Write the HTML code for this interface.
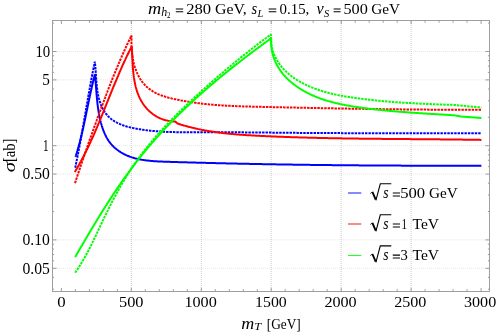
<!DOCTYPE html><html><head><meta charset="utf-8"><style>html,body{margin:0;padding:0;background:#fff;}body{width:498px;height:334px;overflow:hidden;position:relative;font-family:"Liberation Serif",serif;}</style></head><body><svg width="498" height="334" viewBox="0 0 498 334" style="position:absolute;left:0;top:0;will-change:transform"><rect width="498" height="334" fill="#fff"/><g stroke="#a6a6a6" stroke-width="0.6" stroke-dasharray="1 1" fill="none"><line x1="131.3" y1="21" x2="131.3" y2="291.5"/><line x1="201.3" y1="21" x2="201.3" y2="291.5"/><line x1="271.2" y1="21" x2="271.2" y2="291.5"/><line x1="341.2" y1="21" x2="341.2" y2="291.5"/><line x1="411.1" y1="21" x2="411.1" y2="291.5"/></g><g stroke="#cfcfcf" stroke-width="0.5" stroke-dasharray="1 1" fill="none"><line x1="53" y1="51.5" x2="489.5" y2="51.5"/><line x1="53" y1="79.9" x2="489.5" y2="79.9"/><line x1="53" y1="145.7" x2="489.5" y2="145.7"/><line x1="53" y1="174.1" x2="489.5" y2="174.1"/><line x1="53" y1="239.9" x2="489.5" y2="239.9"/><line x1="53" y1="268.3" x2="489.5" y2="268.3"/></g><g stroke="#767676" stroke-width="0.7" fill="none"><line x1="61.4" y1="291.5" x2="61.4" y2="287.9"/><line x1="61.4" y1="20.5" x2="61.4" y2="24.1"/><line x1="75.4" y1="291.5" x2="75.4" y2="289.2"/><line x1="75.4" y1="20.5" x2="75.4" y2="22.8"/><line x1="89.4" y1="291.5" x2="89.4" y2="289.2"/><line x1="89.4" y1="20.5" x2="89.4" y2="22.8"/><line x1="103.4" y1="291.5" x2="103.4" y2="289.2"/><line x1="103.4" y1="20.5" x2="103.4" y2="22.8"/><line x1="117.4" y1="291.5" x2="117.4" y2="289.2"/><line x1="117.4" y1="20.5" x2="117.4" y2="22.8"/><line x1="131.3" y1="291.5" x2="131.3" y2="287.9"/><line x1="131.3" y1="20.5" x2="131.3" y2="24.1"/><line x1="145.3" y1="291.5" x2="145.3" y2="289.2"/><line x1="145.3" y1="20.5" x2="145.3" y2="22.8"/><line x1="159.3" y1="291.5" x2="159.3" y2="289.2"/><line x1="159.3" y1="20.5" x2="159.3" y2="22.8"/><line x1="173.3" y1="291.5" x2="173.3" y2="289.2"/><line x1="173.3" y1="20.5" x2="173.3" y2="22.8"/><line x1="187.3" y1="291.5" x2="187.3" y2="289.2"/><line x1="187.3" y1="20.5" x2="187.3" y2="22.8"/><line x1="201.3" y1="291.5" x2="201.3" y2="287.9"/><line x1="201.3" y1="20.5" x2="201.3" y2="24.1"/><line x1="215.3" y1="291.5" x2="215.3" y2="289.2"/><line x1="215.3" y1="20.5" x2="215.3" y2="22.8"/><line x1="229.3" y1="291.5" x2="229.3" y2="289.2"/><line x1="229.3" y1="20.5" x2="229.3" y2="22.8"/><line x1="243.3" y1="291.5" x2="243.3" y2="289.2"/><line x1="243.3" y1="20.5" x2="243.3" y2="22.8"/><line x1="257.3" y1="291.5" x2="257.3" y2="289.2"/><line x1="257.3" y1="20.5" x2="257.3" y2="22.8"/><line x1="271.2" y1="291.5" x2="271.2" y2="287.9"/><line x1="271.2" y1="20.5" x2="271.2" y2="24.1"/><line x1="285.2" y1="291.5" x2="285.2" y2="289.2"/><line x1="285.2" y1="20.5" x2="285.2" y2="22.8"/><line x1="299.2" y1="291.5" x2="299.2" y2="289.2"/><line x1="299.2" y1="20.5" x2="299.2" y2="22.8"/><line x1="313.2" y1="291.5" x2="313.2" y2="289.2"/><line x1="313.2" y1="20.5" x2="313.2" y2="22.8"/><line x1="327.2" y1="291.5" x2="327.2" y2="289.2"/><line x1="327.2" y1="20.5" x2="327.2" y2="22.8"/><line x1="341.2" y1="291.5" x2="341.2" y2="287.9"/><line x1="341.2" y1="20.5" x2="341.2" y2="24.1"/><line x1="355.2" y1="291.5" x2="355.2" y2="289.2"/><line x1="355.2" y1="20.5" x2="355.2" y2="22.8"/><line x1="369.2" y1="291.5" x2="369.2" y2="289.2"/><line x1="369.2" y1="20.5" x2="369.2" y2="22.8"/><line x1="383.2" y1="291.5" x2="383.2" y2="289.2"/><line x1="383.2" y1="20.5" x2="383.2" y2="22.8"/><line x1="397.2" y1="291.5" x2="397.2" y2="289.2"/><line x1="397.2" y1="20.5" x2="397.2" y2="22.8"/><line x1="411.1" y1="291.5" x2="411.1" y2="287.9"/><line x1="411.1" y1="20.5" x2="411.1" y2="24.1"/><line x1="425.1" y1="291.5" x2="425.1" y2="289.2"/><line x1="425.1" y1="20.5" x2="425.1" y2="22.8"/><line x1="439.1" y1="291.5" x2="439.1" y2="289.2"/><line x1="439.1" y1="20.5" x2="439.1" y2="22.8"/><line x1="453.1" y1="291.5" x2="453.1" y2="289.2"/><line x1="453.1" y1="20.5" x2="453.1" y2="22.8"/><line x1="467.1" y1="291.5" x2="467.1" y2="289.2"/><line x1="467.1" y1="20.5" x2="467.1" y2="22.8"/><line x1="481.1" y1="291.5" x2="481.1" y2="287.9"/><line x1="481.1" y1="20.5" x2="481.1" y2="24.1"/><line x1="52.5" y1="51.5" x2="56.5" y2="51.5"/><line x1="489.5" y1="51.5" x2="485.5" y2="51.5"/><line x1="52.5" y1="79.9" x2="56.5" y2="79.9"/><line x1="489.5" y1="79.9" x2="485.5" y2="79.9"/><line x1="52.5" y1="145.7" x2="56.5" y2="145.7"/><line x1="489.5" y1="145.7" x2="485.5" y2="145.7"/><line x1="52.5" y1="174.1" x2="56.5" y2="174.1"/><line x1="489.5" y1="174.1" x2="485.5" y2="174.1"/><line x1="52.5" y1="239.9" x2="56.5" y2="239.9"/><line x1="489.5" y1="239.9" x2="485.5" y2="239.9"/><line x1="52.5" y1="268.3" x2="56.5" y2="268.3"/><line x1="489.5" y1="268.3" x2="485.5" y2="268.3"/><line x1="52.5" y1="23.1" x2="54.1" y2="23.1"/><line x1="489.5" y1="23.1" x2="487.9" y2="23.1"/><line x1="52.5" y1="55.8" x2="54.1" y2="55.8"/><line x1="489.5" y1="55.8" x2="487.9" y2="55.8"/><line x1="52.5" y1="60.6" x2="54.1" y2="60.6"/><line x1="489.5" y1="60.6" x2="487.9" y2="60.6"/><line x1="52.5" y1="66.1" x2="54.1" y2="66.1"/><line x1="489.5" y1="66.1" x2="487.9" y2="66.1"/><line x1="52.5" y1="72.4" x2="54.1" y2="72.4"/><line x1="489.5" y1="72.4" x2="487.9" y2="72.4"/><line x1="52.5" y1="89.0" x2="54.1" y2="89.0"/><line x1="489.5" y1="89.0" x2="487.9" y2="89.0"/><line x1="52.5" y1="100.8" x2="54.1" y2="100.8"/><line x1="489.5" y1="100.8" x2="487.9" y2="100.8"/><line x1="52.5" y1="117.3" x2="54.1" y2="117.3"/><line x1="489.5" y1="117.3" x2="487.9" y2="117.3"/><line x1="52.5" y1="150.0" x2="54.1" y2="150.0"/><line x1="489.5" y1="150.0" x2="487.9" y2="150.0"/><line x1="52.5" y1="154.8" x2="54.1" y2="154.8"/><line x1="489.5" y1="154.8" x2="487.9" y2="154.8"/><line x1="52.5" y1="160.3" x2="54.1" y2="160.3"/><line x1="489.5" y1="160.3" x2="487.9" y2="160.3"/><line x1="52.5" y1="166.6" x2="54.1" y2="166.6"/><line x1="489.5" y1="166.6" x2="487.9" y2="166.6"/><line x1="52.5" y1="183.2" x2="54.1" y2="183.2"/><line x1="489.5" y1="183.2" x2="487.9" y2="183.2"/><line x1="52.5" y1="195.0" x2="54.1" y2="195.0"/><line x1="489.5" y1="195.0" x2="487.9" y2="195.0"/><line x1="52.5" y1="211.5" x2="54.1" y2="211.5"/><line x1="489.5" y1="211.5" x2="487.9" y2="211.5"/><line x1="52.5" y1="244.2" x2="54.1" y2="244.2"/><line x1="489.5" y1="244.2" x2="487.9" y2="244.2"/><line x1="52.5" y1="249.0" x2="54.1" y2="249.0"/><line x1="489.5" y1="249.0" x2="487.9" y2="249.0"/><line x1="52.5" y1="254.5" x2="54.1" y2="254.5"/><line x1="489.5" y1="254.5" x2="487.9" y2="254.5"/><line x1="52.5" y1="260.8" x2="54.1" y2="260.8"/><line x1="489.5" y1="260.8" x2="487.9" y2="260.8"/><line x1="52.5" y1="277.4" x2="54.1" y2="277.4"/><line x1="489.5" y1="277.4" x2="487.9" y2="277.4"/><line x1="52.5" y1="289.2" x2="54.1" y2="289.2"/><line x1="489.5" y1="289.2" x2="487.9" y2="289.2"/></g><clipPath id="c"><rect x="52.5" y="20.5" width="437.0" height="271.0"/></clipPath><g clip-path="url(#c)"><path d="M75.50,156.90 L75.75,156.13 L75.99,155.36 L76.23,154.58 L76.47,153.81 L76.71,153.04 L76.94,152.26 L77.17,151.48 L77.40,150.71 L77.62,149.93 L77.85,149.15 L78.07,148.38 L78.29,147.60 L78.51,146.82 L78.72,146.04 L78.93,145.26 L79.14,144.48 L79.35,143.70 L79.56,142.92 L79.76,142.13 L79.96,141.35 L80.17,140.57 L80.36,139.78 L80.56,139.00 L80.76,138.21 L80.95,137.43 L81.14,136.64 L81.33,135.86 L81.52,135.07 L81.71,134.29 L81.90,133.50 L82.08,132.71 L82.26,131.92 L82.44,131.14 L82.63,130.35 L82.80,129.56 L82.98,128.77 L83.16,127.98 L83.34,127.19 L83.51,126.40 L83.68,125.61 L83.86,124.82 L84.03,124.03 L84.20,123.24 L84.37,122.45 L84.54,121.66 L84.71,120.87 L84.87,120.08 L85.04,119.29 L85.21,118.50 L85.37,117.70 L85.54,116.91 L85.70,116.12 L85.87,115.33 L86.03,114.54 L86.20,113.74 L86.36,112.95 L86.52,112.16 L86.69,111.37 L86.85,110.57 L87.01,109.78 L87.17,108.99 L87.34,108.20 L87.50,107.40 L87.66,106.61 L87.82,105.82 L87.99,105.03 L88.15,104.24 L88.31,103.44 L88.47,102.65 L88.64,101.86 L88.80,101.07 L88.97,100.28 L89.13,99.48 L89.30,98.69 L89.46,97.90 L89.63,97.11 L89.80,96.32 L89.96,95.53 L90.13,94.74 L90.30,93.95 L90.47,93.16 L90.64,92.37 L90.81,91.58 L90.98,90.79 L91.16,90.00 L91.33,89.21 L91.51,88.43 L91.69,87.64 L91.86,86.85 L92.04,86.06 L92.22,85.28 L92.40,84.49 L92.59,83.70 L92.77,82.92 L92.96,82.13 L93.14,81.35 L93.33,80.56 L93.52,79.78 L93.71,78.99 L93.91,78.21 L94.10,77.43 L94.30,76.64 L94.50,75.86 L94.70,75.08 L94.90,74.30 L94.98,75.07 L95.06,75.83 L95.14,76.60 L95.22,77.38 L95.29,78.15 L95.37,78.93 L95.44,79.71 L95.50,80.49 L95.57,81.27 L95.64,82.06 L95.70,82.85 L95.76,83.64 L95.83,84.43 L95.89,85.22 L95.95,86.01 L96.01,86.81 L96.07,87.61 L96.13,88.41 L96.19,89.21 L96.25,90.01 L96.32,90.81 L96.38,91.61 L96.44,92.42 L96.51,93.22 L96.57,94.03 L96.64,94.84 L96.70,95.65 L96.77,96.45 L96.84,97.26 L96.92,98.07 L96.99,98.88 L97.07,99.69 L97.15,100.50 L97.23,101.31 L97.31,102.12 L97.40,102.93 L97.49,103.74 L97.58,104.55 L97.68,105.36 L97.78,106.17 L97.89,106.98 L97.99,107.79 L98.10,108.60 L98.22,109.41 L98.34,110.21 L98.47,111.02 L98.60,111.82 L98.73,112.63 L98.87,113.43 L99.01,114.23 L99.16,115.04 L99.32,115.84 L99.48,116.63 L99.64,117.43 L99.82,118.23 L99.99,119.02 L100.18,119.81 L100.37,120.60 L100.57,121.39 L100.77,122.18 L100.98,122.96 L101.20,123.75 L101.43,124.53 L101.66,125.30 L101.90,126.08 L102.15,126.85 L102.40,127.62 L102.66,128.39 L102.94,129.15 L103.21,129.90 L103.50,130.66 L103.80,131.41 L104.10,132.15 L104.41,132.89 L104.73,133.62 L105.06,134.34 L105.40,135.06 L105.75,135.78 L106.10,136.48 L106.47,137.18 L106.84,137.87 L107.23,138.56 L107.63,139.23 L108.04,139.90 L108.47,140.56 L108.91,141.21 L109.36,141.85 L109.83,142.49 L110.32,143.11 L110.82,143.72 L111.34,144.32 L111.87,144.92 L112.42,145.50 L112.98,146.07 L113.55,146.63 L114.14,147.18 L114.73,147.72 L115.34,148.25 L115.96,148.77 L116.59,149.28 L117.22,149.77 L117.87,150.25 L118.52,150.72 L119.19,151.18 L119.86,151.63 L120.53,152.06 L121.21,152.49 L121.90,152.90 L122.59,153.29 L123.28,153.68 L123.98,154.05 L124.69,154.40 L125.39,154.75 L126.10,155.08 L126.82,155.41 L127.54,155.72 L128.26,156.01 L128.98,156.30 L129.71,156.58 L130.44,156.85 L131.18,157.10 L131.92,157.35 L132.66,157.58 L133.41,157.81 L134.15,158.03 L134.90,158.24 L135.66,158.43 L136.42,158.63 L137.18,158.81 L137.94,158.98 L138.70,159.15 L139.47,159.31 L140.24,159.46 L141.01,159.60 L141.79,159.74 L142.56,159.87 L143.34,159.99 L144.12,160.11 L144.91,160.22 L145.69,160.33 L146.48,160.43 L147.27,160.52 L148.06,160.61 L148.85,160.70 L149.65,160.78 L150.44,160.86 L151.24,160.93 L152.04,161.00 L152.84,161.06 L153.64,161.13 L154.44,161.18 L155.25,161.24 L156.05,161.29 L156.86,161.34 L157.67,161.39 L158.48,161.43 L159.28,161.47 L160.09,161.51 L160.90,161.55 L161.71,161.58 L162.53,161.62 L163.34,161.65 L164.15,161.68 L164.96,161.71 L165.78,161.73 L166.59,161.76 L167.40,161.79 L168.22,161.81 L169.03,161.84 L169.84,161.86 L170.66,161.89 L171.47,161.91 L172.28,161.94 L173.09,161.96 L173.91,161.99 L174.72,162.01 L175.53,162.03 L176.34,162.06 L177.16,162.08 L177.97,162.11 L178.78,162.13 L179.59,162.15 L180.40,162.18 L181.21,162.20 L182.02,162.23 L182.84,162.25 L183.65,162.27 L184.46,162.29 L185.27,162.32 L186.08,162.34 L186.89,162.36 L187.70,162.39 L188.51,162.41 L189.32,162.43 L190.13,162.45 L190.94,162.48 L191.75,162.50 L192.56,162.52 L193.37,162.54 L194.18,162.57 L194.99,162.59 L195.79,162.61 L196.60,162.63 L197.41,162.65 L198.22,162.68 L199.03,162.70 L199.84,162.72 L200.65,162.74 L201.45,162.76 L202.26,162.78 L203.07,162.80 L203.88,162.82 L204.68,162.85 L205.49,162.87 L206.30,162.89 L207.11,162.91 L207.91,162.93 L208.72,162.95 L209.53,162.97 L210.34,162.99 L211.14,163.01 L211.95,163.03 L212.76,163.05 L213.56,163.07 L214.37,163.09 L215.17,163.11 L215.98,163.13 L216.79,163.15 L217.59,163.17 L218.40,163.19 L219.20,163.21 L220.01,163.23 L220.81,163.25 L221.62,163.26 L222.43,163.28 L223.23,163.30 L224.04,163.32 L224.84,163.34 L225.65,163.36 L226.45,163.38 L227.26,163.40 L228.06,163.41 L228.86,163.43 L229.67,163.45 L230.47,163.47 L231.28,163.49 L232.08,163.50 L232.89,163.52 L233.69,163.54 L234.49,163.56 L235.30,163.58 L236.10,163.59 L236.91,163.61 L237.71,163.63 L238.51,163.64 L239.32,163.66 L240.12,163.68 L240.92,163.70 L241.73,163.71 L242.53,163.73 L243.33,163.75 L244.13,163.76 L244.94,163.78 L245.74,163.80 L246.54,163.81 L247.34,163.83 L248.15,163.85 L248.95,163.86 L249.75,163.88 L250.55,163.89 L251.36,163.91 L252.16,163.93 L252.96,163.94 L253.76,163.96 L254.56,163.97 L255.37,163.99 L256.17,164.00 L256.97,164.02 L257.77,164.03 L258.57,164.05 L259.37,164.07 L260.18,164.08 L260.98,164.10 L261.78,164.11 L262.58,164.13 L263.38,164.14 L264.18,164.15 L264.98,164.17 L265.78,164.18 L266.59,164.20 L267.39,164.21 L268.19,164.23 L268.99,164.24 L269.79,164.26 L270.59,164.27 L271.39,164.28 L272.19,164.30 L272.99,164.31 L273.79,164.32 L274.59,164.34 L275.39,164.35 L276.19,164.37 L276.99,164.38 L277.79,164.39 L278.59,164.41 L279.39,164.42 L280.19,164.43 L280.99,164.44 L281.79,164.46 L282.59,164.47 L283.39,164.48 L284.19,164.50 L284.99,164.51 L285.79,164.52 L286.59,164.53 L287.39,164.55 L288.19,164.56 L288.99,164.57 L289.79,164.58 L290.59,164.60 L291.39,164.61 L292.19,164.62 L292.99,164.63 L293.79,164.64 L294.59,164.66 L295.39,164.67 L296.18,164.68 L296.98,164.69 L297.78,164.70 L298.58,164.71 L299.38,164.72 L300.18,164.74 L300.98,164.75 L301.78,164.76 L302.58,164.77 L303.38,164.78 L304.18,164.79 L304.97,164.80 L305.77,164.81 L306.57,164.82 L307.37,164.83 L308.17,164.84 L308.97,164.85 L309.77,164.87 L310.57,164.88 L311.36,164.89 L312.16,164.90 L312.96,164.91 L313.76,164.92 L314.56,164.93 L315.36,164.94 L316.16,164.95 L316.96,164.96 L317.75,164.97 L318.55,164.98 L319.35,164.98 L320.15,164.99 L320.95,165.00 L321.75,165.01 L322.55,165.02 L323.34,165.03 L324.14,165.04 L324.94,165.05 L325.74,165.06 L326.54,165.07 L327.34,165.08 L328.13,165.09 L328.93,165.09 L329.73,165.10 L330.53,165.11 L331.33,165.12 L332.13,165.13 L332.93,165.14 L333.72,165.15 L334.52,165.15 L335.32,165.16 L336.12,165.17 L336.92,165.18 L337.72,165.19 L338.51,165.19 L339.31,165.20 L340.11,165.21 L340.91,165.22 L341.71,165.23 L342.51,165.23 L343.31,165.24 L344.10,165.25 L344.90,165.26 L345.70,165.26 L346.50,165.27 L347.30,165.28 L348.10,165.28 L348.90,165.29 L349.69,165.30 L350.49,165.31 L351.29,165.31 L352.09,165.32 L352.89,165.33 L353.69,165.33 L354.49,165.34 L355.29,165.35 L356.08,165.35 L356.88,165.36 L357.68,165.37 L358.48,165.37 L359.28,165.38 L360.08,165.38 L360.88,165.39 L361.68,165.40 L362.47,165.40 L363.27,165.41 L364.07,165.41 L364.87,165.42 L365.67,165.43 L366.47,165.43 L367.27,165.44 L368.07,165.44 L368.87,165.45 L369.67,165.45 L370.47,165.46 L371.27,165.47 L372.06,165.47 L372.86,165.48 L373.66,165.48 L374.46,165.49 L375.26,165.49 L376.06,165.50 L376.86,165.50 L377.66,165.51 L378.46,165.51 L379.26,165.52 L380.06,165.52 L380.86,165.53 L381.66,165.53 L382.46,165.53 L383.26,165.54 L384.06,165.54 L384.86,165.55 L385.66,165.55 L386.46,165.56 L387.26,165.56 L388.06,165.56 L388.86,165.57 L389.66,165.57 L390.46,165.58 L391.26,165.58 L392.06,165.58 L392.86,165.59 L393.66,165.59 L394.46,165.60 L395.26,165.60 L396.06,165.60 L396.86,165.61 L397.66,165.61 L398.47,165.61 L399.27,165.62 L400.07,165.62 L400.87,165.62 L401.67,165.63 L402.47,165.63 L403.27,165.63 L404.07,165.64 L404.87,165.64 L405.68,165.64 L406.48,165.65 L407.28,165.65 L408.08,165.65 L408.88,165.65 L409.68,165.66 L410.49,165.66 L411.29,165.66 L412.09,165.66 L412.89,165.67 L413.69,165.67 L414.50,165.67 L415.30,165.67 L416.10,165.68 L416.90,165.68 L417.71,165.68 L418.51,165.68 L419.31,165.68 L420.11,165.69 L420.92,165.69 L421.72,165.69 L422.52,165.69 L423.33,165.69 L424.13,165.70 L424.93,165.70 L425.73,165.70 L426.54,165.70 L427.34,165.70 L428.14,165.70 L428.95,165.70 L429.75,165.71 L430.56,165.71 L431.36,165.71 L432.16,165.71 L432.97,165.71 L433.77,165.71 L434.58,165.71 L435.38,165.71 L436.18,165.72 L436.99,165.72 L437.79,165.72 L438.60,165.72 L439.40,165.72 L440.21,165.72 L441.01,165.72 L441.82,165.72 L442.62,165.72 L443.43,165.72 L444.23,165.72 L445.04,165.72 L445.85,165.72 L446.65,165.72 L447.46,165.72 L448.26,165.73 L449.07,165.73 L449.87,165.73 L450.68,165.73 L451.49,165.73 L452.29,165.73 L453.10,165.73 L453.91,165.73 L454.71,165.73 L455.52,165.73 L456.33,165.73 L457.13,165.73 L457.94,165.73 L458.75,165.73 L459.56,165.72 L460.36,165.72 L461.17,165.72 L461.98,165.72 L462.79,165.72 L463.59,165.72 L464.40,165.72 L465.21,165.72 L466.02,165.72 L466.83,165.72 L467.64,165.72 L468.44,165.72 L469.25,165.72 L470.06,165.72 L470.87,165.72 L471.68,165.71 L472.49,165.71 L473.30,165.71 L474.11,165.71 L474.92,165.71 L475.73,165.71 L476.54,165.71 L477.35,165.71 L478.16,165.71 L478.97,165.70 L479.78,165.70 L480.59,165.70 L481.40,165.70" stroke="#0000ff" stroke-width="2.0" fill="none" stroke-linejoin="bevel"/><path d="M75.20,167.80 L75.37,167.01 L75.53,166.21 L75.70,165.42 L75.87,164.62 L76.03,163.83 L76.19,163.03 L76.36,162.24 L76.52,161.44 L76.68,160.65 L76.84,159.85 L77.00,159.06 L77.16,158.26 L77.32,157.47 L77.47,156.67 L77.63,155.88 L77.79,155.08 L77.94,154.28 L78.10,153.49 L78.25,152.69 L78.41,151.89 L78.56,151.10 L78.71,150.30 L78.86,149.50 L79.02,148.71 L79.17,147.91 L79.32,147.11 L79.47,146.31 L79.62,145.52 L79.76,144.72 L79.91,143.92 L80.06,143.12 L80.21,142.33 L80.36,141.53 L80.50,140.73 L80.65,139.93 L80.79,139.14 L80.94,138.34 L81.08,137.54 L81.23,136.74 L81.37,135.94 L81.51,135.14 L81.66,134.34 L81.80,133.55 L81.94,132.75 L82.09,131.95 L82.23,131.15 L82.37,130.35 L82.51,129.55 L82.65,128.75 L82.79,127.95 L82.93,127.16 L83.07,126.36 L83.21,125.56 L83.35,124.76 L83.49,123.96 L83.63,123.16 L83.77,122.36 L83.91,121.56 L84.05,120.76 L84.19,119.96 L84.33,119.16 L84.47,118.36 L84.61,117.57 L84.74,116.77 L84.88,115.97 L85.02,115.17 L85.16,114.37 L85.30,113.57 L85.44,112.77 L85.58,111.97 L85.71,111.17 L85.85,110.37 L85.99,109.57 L86.13,108.77 L86.27,107.97 L86.41,107.17 L86.54,106.37 L86.68,105.57 L86.82,104.77 L86.96,103.98 L87.10,103.18 L87.24,102.38 L87.38,101.58 L87.52,100.78 L87.66,99.98 L87.80,99.18 L87.94,98.38 L88.08,97.58 L88.22,96.78 L88.36,95.98 L88.50,95.18 L88.64,94.39 L88.78,93.59 L88.92,92.79 L89.07,91.99 L89.21,91.19 L89.35,90.39 L89.49,89.59 L89.64,88.79 L89.78,88.00 L89.92,87.20 L90.07,86.40 L90.21,85.60 L90.36,84.80 L90.50,84.01 L90.65,83.21 L90.80,82.41 L90.94,81.61 L91.09,80.81 L91.24,80.02 L91.39,79.22 L91.54,78.42 L91.69,77.62 L91.84,76.83 L91.99,76.03 L92.14,75.23 L92.29,74.44 L92.44,73.64 L92.59,72.84 L92.75,72.05 L92.90,71.25 L93.06,70.45 L93.21,69.66 L93.37,68.86 L93.52,68.06 L93.68,67.27 L93.84,66.47 L94.00,65.68 L94.16,64.88 L94.32,64.09 L94.48,63.29 L94.64,62.49 L94.80,61.70 L94.89,62.36 L94.98,63.03 L95.06,63.72 L95.13,64.41 L95.21,65.12 L95.28,65.84 L95.34,66.57 L95.40,67.31 L95.46,68.05 L95.52,68.81 L95.58,69.58 L95.63,70.35 L95.68,71.13 L95.73,71.92 L95.78,72.72 L95.83,73.52 L95.89,74.33 L95.94,75.14 L95.99,75.96 L96.04,76.79 L96.10,77.62 L96.16,78.45 L96.21,79.29 L96.28,80.13 L96.34,80.98 L96.41,81.82 L96.48,82.67 L96.56,83.52 L96.64,84.38 L96.72,85.23 L96.81,86.09 L96.91,86.94 L97.01,87.80 L97.12,88.65 L97.23,89.50 L97.36,90.36 L97.48,91.21 L97.62,92.06 L97.76,92.90 L97.92,93.74 L98.08,94.58 L98.25,95.42 L98.43,96.25 L98.62,97.08 L98.82,97.90 L99.03,98.72 L99.25,99.53 L99.48,100.34 L99.72,101.14 L99.98,101.93 L100.24,102.71 L100.52,103.49 L100.81,104.26 L101.11,105.02 L101.43,105.77 L101.75,106.51 L102.09,107.24 L102.44,107.97 L102.80,108.68 L103.18,109.38 L103.57,110.06 L103.97,110.74 L104.38,111.40 L104.81,112.05 L105.25,112.69 L105.70,113.31 L106.17,113.92 L106.65,114.51 L107.14,115.09 L107.65,115.66 L108.17,116.21 L108.70,116.74 L109.24,117.26 L109.80,117.76 L110.36,118.25 L110.94,118.73 L111.53,119.19 L112.14,119.64 L112.75,120.08 L113.37,120.51 L114.01,120.92 L114.65,121.32 L115.30,121.71 L115.96,122.08 L116.63,122.44 L117.31,122.80 L118.00,123.14 L118.70,123.47 L119.40,123.79 L120.11,124.10 L120.83,124.40 L121.55,124.69 L122.29,124.97 L123.02,125.24 L123.77,125.51 L124.52,125.76 L125.27,126.00 L126.04,126.24 L126.80,126.47 L127.57,126.69 L128.35,126.90 L129.13,127.11 L129.91,127.31 L130.70,127.50 L131.48,127.69 L132.28,127.86 L133.07,128.04 L133.87,128.21 L134.67,128.37 L135.47,128.52 L136.27,128.67 L137.08,128.82 L137.88,128.96 L138.69,129.10 L139.49,129.23 L140.30,129.36 L141.11,129.49 L141.91,129.61 L142.72,129.73 L143.52,129.85 L144.33,129.96 L145.13,130.07 L145.94,130.17 L146.75,130.27 L147.55,130.37 L148.36,130.47 L149.16,130.56 L149.97,130.65 L150.77,130.73 L151.58,130.81 L152.38,130.89 L153.19,130.97 L154.00,131.04 L154.80,131.11 L155.61,131.18 L156.41,131.25 L157.22,131.31 L158.02,131.37 L158.83,131.43 L159.63,131.48 L160.44,131.54 L161.24,131.59 L162.05,131.64 L162.85,131.68 L163.66,131.73 L164.46,131.77 L165.27,131.81 L166.07,131.84 L166.88,131.88 L167.68,131.91 L168.49,131.94 L169.29,131.97 L170.10,132.00 L170.90,132.03 L171.70,132.05 L172.51,132.07 L173.31,132.09 L174.12,132.11 L174.92,132.13 L175.73,132.15 L176.53,132.16 L177.34,132.17 L178.14,132.19 L178.95,132.20 L179.75,132.21 L180.55,132.22 L181.36,132.23 L182.16,132.23 L182.97,132.24 L183.77,132.24 L184.58,132.25 L185.38,132.25 L186.18,132.25 L186.99,132.25 L187.79,132.26 L188.60,132.26 L189.40,132.26 L190.20,132.26 L191.01,132.25 L191.81,132.25 L192.62,132.25 L193.42,132.25 L194.22,132.25 L195.03,132.25 L195.83,132.24 L196.64,132.24 L197.44,132.24 L198.24,132.24 L199.05,132.23 L199.85,132.23 L200.65,132.23 L201.46,132.23 L202.26,132.23 L203.07,132.23 L203.87,132.22 L204.67,132.22 L205.48,132.22 L206.28,132.22 L207.08,132.22 L207.89,132.22 L208.69,132.22 L209.49,132.22 L210.30,132.22 L211.10,132.22 L211.90,132.22 L212.71,132.22 L213.51,132.23 L214.31,132.23 L215.12,132.23 L215.92,132.23 L216.72,132.23 L217.53,132.23 L218.33,132.24 L219.13,132.24 L219.94,132.24 L220.74,132.24 L221.54,132.25 L222.35,132.25 L223.15,132.25 L223.95,132.26 L224.75,132.26 L225.56,132.26 L226.36,132.27 L227.16,132.27 L227.97,132.27 L228.77,132.28 L229.57,132.28 L230.37,132.29 L231.18,132.29 L231.98,132.30 L232.78,132.30 L233.59,132.31 L234.39,132.31 L235.19,132.32 L235.99,132.32 L236.80,132.33 L237.60,132.33 L238.40,132.34 L239.21,132.34 L240.01,132.35 L240.81,132.35 L241.61,132.36 L242.42,132.37 L243.22,132.37 L244.02,132.38 L244.82,132.38 L245.63,132.39 L246.43,132.40 L247.23,132.40 L248.03,132.41 L248.84,132.42 L249.64,132.42 L250.44,132.43 L251.24,132.44 L252.05,132.44 L252.85,132.45 L253.65,132.46 L254.45,132.47 L255.25,132.47 L256.06,132.48 L256.86,132.49 L257.66,132.49 L258.46,132.50 L259.27,132.51 L260.07,132.52 L260.87,132.52 L261.67,132.53 L262.48,132.54 L263.28,132.55 L264.08,132.55 L264.88,132.56 L265.68,132.57 L266.49,132.58 L267.29,132.59 L268.09,132.59 L268.89,132.60 L269.69,132.61 L270.50,132.62 L271.30,132.62 L272.10,132.63 L272.90,132.64 L273.70,132.65 L274.51,132.66 L275.31,132.66 L276.11,132.67 L276.91,132.68 L277.71,132.69 L278.52,132.70 L279.32,132.70 L280.12,132.71 L280.92,132.72 L281.72,132.73 L282.53,132.73 L283.33,132.74 L284.13,132.75 L284.93,132.76 L285.73,132.77 L286.53,132.77 L287.34,132.78 L288.14,132.79 L288.94,132.80 L289.74,132.80 L290.54,132.81 L291.35,132.82 L292.15,132.83 L292.95,132.83 L293.75,132.84 L294.55,132.85 L295.35,132.85 L296.16,132.86 L296.96,132.87 L297.76,132.88 L298.56,132.88 L299.36,132.89 L300.16,132.90 L300.97,132.90 L301.77,132.91 L302.57,132.92 L303.37,132.92 L304.17,132.93 L304.97,132.93 L305.78,132.94 L306.58,132.95 L307.38,132.95 L308.18,132.96 L308.98,132.96 L309.78,132.97 L310.59,132.98 L311.39,132.98 L312.19,132.99 L312.99,132.99 L313.79,133.00 L314.59,133.00 L315.40,133.01 L316.20,133.01 L317.00,133.02 L317.80,133.02 L318.60,133.03 L319.40,133.03 L320.20,133.04 L321.01,133.04 L321.81,133.05 L322.61,133.05 L323.41,133.05 L324.21,133.06 L325.01,133.06 L325.81,133.07 L326.62,133.07 L327.42,133.07 L328.22,133.08 L329.02,133.08 L329.82,133.08 L330.62,133.09 L331.43,133.09 L332.23,133.09 L333.03,133.10 L333.83,133.10 L334.63,133.10 L335.43,133.11 L336.23,133.11 L337.04,133.11 L337.84,133.11 L338.64,133.12 L339.44,133.12 L340.24,133.12 L341.04,133.12 L341.84,133.13 L342.65,133.13 L343.45,133.13 L344.25,133.13 L345.05,133.14 L345.85,133.14 L346.65,133.14 L347.45,133.14 L348.26,133.14 L349.06,133.15 L349.86,133.15 L350.66,133.15 L351.46,133.15 L352.26,133.15 L353.06,133.15 L353.87,133.16 L354.67,133.16 L355.47,133.16 L356.27,133.16 L357.07,133.16 L357.87,133.16 L358.67,133.16 L359.48,133.16 L360.28,133.17 L361.08,133.17 L361.88,133.17 L362.68,133.17 L363.48,133.17 L364.28,133.17 L365.09,133.17 L365.89,133.17 L366.69,133.17 L367.49,133.17 L368.29,133.17 L369.09,133.18 L369.89,133.18 L370.70,133.18 L371.50,133.18 L372.30,133.18 L373.10,133.18 L373.90,133.18 L374.70,133.18 L375.51,133.18 L376.31,133.18 L377.11,133.18 L377.91,133.18 L378.71,133.18 L379.51,133.18 L380.31,133.18 L381.12,133.18 L381.92,133.18 L382.72,133.18 L383.52,133.18 L384.32,133.18 L385.12,133.18 L385.93,133.18 L386.73,133.18 L387.53,133.18 L388.33,133.18 L389.13,133.18 L389.93,133.18 L390.74,133.18 L391.54,133.18 L392.34,133.18 L393.14,133.18 L393.94,133.18 L394.74,133.18 L395.55,133.18 L396.35,133.18 L397.15,133.18 L397.95,133.18 L398.75,133.18 L399.55,133.18 L400.36,133.18 L401.16,133.18 L401.96,133.18 L402.76,133.18 L403.56,133.18 L404.36,133.18 L405.17,133.18 L405.97,133.18 L406.77,133.18 L407.57,133.18 L408.37,133.18 L409.18,133.18 L409.98,133.18 L410.78,133.18 L411.58,133.18 L412.38,133.18 L413.18,133.18 L413.99,133.18 L414.79,133.18 L415.59,133.18 L416.39,133.18 L417.19,133.18 L418.00,133.18 L418.80,133.18 L419.60,133.18 L420.40,133.18 L421.20,133.18 L422.01,133.18 L422.81,133.18 L423.61,133.18 L424.41,133.18 L425.21,133.18 L426.02,133.18 L426.82,133.18 L427.62,133.18 L428.42,133.18 L429.23,133.18 L430.03,133.18 L430.83,133.18 L431.63,133.18 L432.43,133.18 L433.24,133.18 L434.04,133.18 L434.84,133.18 L435.64,133.18 L436.44,133.18 L437.25,133.18 L438.05,133.19 L438.85,133.19 L439.65,133.19 L440.46,133.19 L441.26,133.19 L442.06,133.19 L442.86,133.19 L443.67,133.19 L444.47,133.19 L445.27,133.19 L446.07,133.19 L446.88,133.20 L447.68,133.20 L448.48,133.20 L449.28,133.20 L450.09,133.20 L450.89,133.20 L451.69,133.20 L452.49,133.20 L453.30,133.21 L454.10,133.21 L454.90,133.21 L455.70,133.21 L456.51,133.21 L457.31,133.21 L458.11,133.22 L458.92,133.22 L459.72,133.22 L460.52,133.22 L461.32,133.22 L462.13,133.23 L462.93,133.23 L463.73,133.23 L464.53,133.23 L465.34,133.24 L466.14,133.24 L466.94,133.24 L467.75,133.24 L468.55,133.25 L469.35,133.25 L470.16,133.25 L470.96,133.26 L471.76,133.26 L472.56,133.26 L473.37,133.26 L474.17,133.27 L474.97,133.27 L475.78,133.27 L476.58,133.28 L477.38,133.28 L478.19,133.28 L478.99,133.29 L479.79,133.29 L480.60,133.30 L481.40,133.30" stroke="#0000ff" stroke-width="2.0" fill="none" stroke-linejoin="bevel" stroke-dasharray="2.45 0.98"/><path d="M74.80,171.90 L75.22,171.21 L75.63,170.51 L76.05,169.81 L76.46,169.12 L76.87,168.42 L77.27,167.72 L77.68,167.02 L78.08,166.32 L78.48,165.61 L78.88,164.91 L79.27,164.20 L79.66,163.50 L80.05,162.79 L80.44,162.08 L80.83,161.37 L81.21,160.66 L81.59,159.95 L81.98,159.24 L82.35,158.53 L82.73,157.81 L83.10,157.10 L83.48,156.38 L83.85,155.67 L84.21,154.95 L84.58,154.23 L84.95,153.51 L85.31,152.79 L85.67,152.07 L86.03,151.35 L86.39,150.63 L86.74,149.90 L87.10,149.18 L87.45,148.45 L87.80,147.73 L88.15,147.00 L88.50,146.27 L88.84,145.55 L89.19,144.82 L89.53,144.09 L89.87,143.36 L90.21,142.63 L90.55,141.90 L90.89,141.16 L91.23,140.43 L91.56,139.70 L91.89,138.96 L92.23,138.23 L92.56,137.49 L92.89,136.76 L93.22,136.02 L93.54,135.28 L93.87,134.55 L94.19,133.81 L94.52,133.07 L94.84,132.33 L95.16,131.59 L95.48,130.85 L95.80,130.11 L96.12,129.37 L96.44,128.63 L96.76,127.88 L97.07,127.14 L97.39,126.40 L97.70,125.66 L98.01,124.91 L98.33,124.17 L98.64,123.42 L98.95,122.68 L99.26,121.93 L99.57,121.19 L99.88,120.44 L100.19,119.70 L100.49,118.95 L100.80,118.20 L101.11,117.46 L101.41,116.71 L101.72,115.96 L102.02,115.21 L102.33,114.46 L102.63,113.72 L102.93,112.97 L103.24,112.22 L103.54,111.47 L103.84,110.72 L104.15,109.97 L104.45,109.22 L104.75,108.47 L105.05,107.72 L105.35,106.97 L105.65,106.23 L105.95,105.48 L106.25,104.73 L106.55,103.98 L106.86,103.23 L107.16,102.48 L107.46,101.73 L107.76,100.98 L108.06,100.23 L108.36,99.48 L108.66,98.73 L108.96,97.98 L109.26,97.23 L109.56,96.48 L109.86,95.73 L110.16,94.98 L110.46,94.23 L110.77,93.48 L111.07,92.73 L111.37,91.98 L111.67,91.23 L111.98,90.48 L112.28,89.73 L112.58,88.98 L112.89,88.24 L113.19,87.49 L113.50,86.74 L113.81,85.99 L114.11,85.24 L114.42,84.50 L114.73,83.75 L115.03,83.00 L115.34,82.26 L115.65,81.51 L115.96,80.77 L116.27,80.02 L116.59,79.28 L116.90,78.53 L117.21,77.79 L117.52,77.04 L117.84,76.30 L118.16,75.56 L118.47,74.81 L118.79,74.07 L119.11,73.33 L119.43,72.59 L119.75,71.85 L120.07,71.11 L120.39,70.37 L120.72,69.63 L121.04,68.89 L121.37,68.15 L121.69,67.41 L122.02,66.67 L122.35,65.94 L122.68,65.20 L123.01,64.47 L123.35,63.73 L123.68,63.00 L124.02,62.26 L124.36,61.53 L124.69,60.80 L125.03,60.06 L125.38,59.33 L125.72,58.60 L126.06,57.87 L126.41,57.14 L126.76,56.42 L127.11,55.69 L127.46,54.96 L127.81,54.23 L128.16,53.51 L128.52,52.78 L128.88,52.06 L129.24,51.34 L129.60,50.62 L129.96,49.89 L130.32,49.17 L130.69,48.45 L131.06,47.74 L131.43,47.02 L131.80,46.30 L131.84,47.05 L131.88,47.80 L131.92,48.56 L131.95,49.32 L131.99,50.09 L132.02,50.86 L132.06,51.64 L132.09,52.42 L132.12,53.21 L132.15,54.00 L132.19,54.80 L132.22,55.60 L132.25,56.40 L132.29,57.21 L132.32,58.02 L132.36,58.84 L132.40,59.65 L132.44,60.47 L132.48,61.30 L132.52,62.12 L132.57,62.95 L132.62,63.78 L132.67,64.61 L132.72,65.44 L132.78,66.27 L132.84,67.11 L132.90,67.94 L132.97,68.78 L133.04,69.61 L133.11,70.45 L133.19,71.29 L133.27,72.13 L133.36,72.96 L133.46,73.80 L133.56,74.63 L133.66,75.47 L133.77,76.30 L133.88,77.13 L134.00,77.96 L134.13,78.79 L134.27,79.62 L134.41,80.44 L134.55,81.27 L134.71,82.09 L134.87,82.90 L135.04,83.72 L135.21,84.53 L135.40,85.34 L135.59,86.14 L135.79,86.94 L136.00,87.74 L136.22,88.53 L136.44,89.32 L136.68,90.10 L136.92,90.88 L137.18,91.65 L137.44,92.42 L137.71,93.18 L138.00,93.94 L138.29,94.69 L138.60,95.44 L138.91,96.18 L139.24,96.91 L139.58,97.64 L139.92,98.36 L140.28,99.07 L140.65,99.77 L141.04,100.47 L141.43,101.16 L141.83,101.84 L142.25,102.52 L142.67,103.18 L143.11,103.84 L143.55,104.49 L144.01,105.13 L144.48,105.76 L144.96,106.38 L145.45,107.00 L145.95,107.60 L146.46,108.19 L146.98,108.78 L147.51,109.35 L148.06,109.91 L148.61,110.46 L149.17,111.00 L149.75,111.53 L150.33,112.05 L150.92,112.56 L151.53,113.05 L152.14,113.54 L152.77,114.01 L153.40,114.47 L154.05,114.91 L154.71,115.35 L155.37,115.77 L156.05,116.18 L156.73,116.57 L157.43,116.95 L158.13,117.32 L158.85,117.67 L159.58,118.01 L160.31,118.33 L161.06,118.64 L161.81,118.94 L162.58,119.22 L163.35,119.49 L164.14,119.74 L164.93,119.97 L165.73,120.19 L166.55,120.39 L167.37,120.58 L168.20,120.75 L169.04,120.90 L169.90,121.04 L170.76,121.16 L171.63,121.26 L172.51,121.35 L173.39,121.42 L174.29,121.47 L175.20,121.50 L177.50,123.50 L178.28,123.75 L179.06,124.00 L179.84,124.25 L180.62,124.49 L181.40,124.73 L182.18,124.96 L182.96,125.19 L183.74,125.42 L184.52,125.64 L185.30,125.86 L186.08,126.08 L186.86,126.29 L187.64,126.50 L188.42,126.71 L189.21,126.91 L189.99,127.11 L190.77,127.31 L191.55,127.51 L192.34,127.70 L193.12,127.89 L193.90,128.07 L194.69,128.25 L195.47,128.43 L196.26,128.61 L197.04,128.78 L197.82,128.95 L198.61,129.12 L199.39,129.28 L200.18,129.44 L200.96,129.60 L201.75,129.76 L202.54,129.91 L203.32,130.06 L204.11,130.21 L204.89,130.36 L205.68,130.50 L206.47,130.64 L207.25,130.78 L208.04,130.91 L208.83,131.05 L209.62,131.18 L210.40,131.30 L211.19,131.43 L211.98,131.55 L212.77,131.67 L213.56,131.79 L214.35,131.91 L215.14,132.02 L215.93,132.13 L216.71,132.24 L217.50,132.35 L218.29,132.46 L219.08,132.56 L219.87,132.66 L220.66,132.76 L221.45,132.86 L222.25,132.95 L223.04,133.05 L223.83,133.14 L224.62,133.23 L225.41,133.32 L226.20,133.40 L226.99,133.49 L227.79,133.57 L228.58,133.65 L229.37,133.73 L230.16,133.81 L230.95,133.89 L231.75,133.96 L232.54,134.03 L233.33,134.11 L234.13,134.18 L234.92,134.25 L235.71,134.31 L236.51,134.38 L237.30,134.44 L238.10,134.51 L238.89,134.57 L239.68,134.63 L240.48,134.69 L241.27,134.75 L242.07,134.81 L242.86,134.86 L243.66,134.92 L244.45,134.97 L245.25,135.02 L246.05,135.08 L246.84,135.13 L247.64,135.18 L248.43,135.23 L249.23,135.27 L250.03,135.32 L250.82,135.37 L251.62,135.41 L252.42,135.46 L253.21,135.50 L254.01,135.55 L254.81,135.59 L255.61,135.63 L256.40,135.68 L257.20,135.72 L258.00,135.76 L258.80,135.80 L259.60,135.84 L260.39,135.88 L261.19,135.92 L261.99,135.96 L262.79,135.99 L263.59,136.03 L264.39,136.07 L265.19,136.11 L265.99,136.14 L266.78,136.18 L267.58,136.22 L268.38,136.25 L269.18,136.29 L269.98,136.32 L270.78,136.36 L271.58,136.39 L272.38,136.43 L273.18,136.46 L273.98,136.49 L274.78,136.53 L275.58,136.56 L276.39,136.59 L277.19,136.63 L277.99,136.66 L278.79,136.69 L279.59,136.72 L280.39,136.75 L281.19,136.78 L281.99,136.81 L282.80,136.84 L283.60,136.87 L284.40,136.90 L285.20,136.93 L286.00,136.96 L286.80,136.99 L287.61,137.02 L288.41,137.05 L289.21,137.08 L290.01,137.10 L290.82,137.13 L291.62,137.16 L292.42,137.19 L293.23,137.21 L294.03,137.24 L294.83,137.26 L295.63,137.29 L296.44,137.32 L297.24,137.34 L298.04,137.37 L298.85,137.39 L299.65,137.41 L300.46,137.44 L301.26,137.46 L302.06,137.49 L302.87,137.51 L303.67,137.53 L304.47,137.56 L305.28,137.58 L306.08,137.60 L306.89,137.62 L307.69,137.65 L308.50,137.67 L309.30,137.69 L310.11,137.71 L310.91,137.73 L311.71,137.75 L312.52,137.77 L313.32,137.79 L314.13,137.81 L314.93,137.83 L315.74,137.85 L316.54,137.87 L317.35,137.89 L318.15,137.91 L318.96,137.93 L319.77,137.95 L320.57,137.97 L321.38,137.98 L322.18,138.00 L322.99,138.02 L323.79,138.04 L324.60,138.05 L325.40,138.07 L326.21,138.09 L327.02,138.10 L327.82,138.12 L328.63,138.14 L329.43,138.15 L330.24,138.17 L331.05,138.19 L331.85,138.20 L332.66,138.22 L333.46,138.23 L334.27,138.25 L335.08,138.26 L335.88,138.28 L336.69,138.29 L337.50,138.30 L338.30,138.32 L339.11,138.33 L339.91,138.35 L340.72,138.36 L341.53,138.37 L342.33,138.39 L343.14,138.40 L343.95,138.41 L344.75,138.43 L345.56,138.44 L346.37,138.45 L347.17,138.46 L347.98,138.48 L348.79,138.49 L349.59,138.50 L350.40,138.51 L351.21,138.52 L352.01,138.54 L352.82,138.55 L353.63,138.56 L354.43,138.57 L355.24,138.58 L356.05,138.59 L356.86,138.60 L357.66,138.61 L358.47,138.62 L359.28,138.63 L360.08,138.64 L360.89,138.65 L361.70,138.66 L362.50,138.67 L363.31,138.68 L364.12,138.69 L364.92,138.70 L365.73,138.71 L366.54,138.72 L367.35,138.73 L368.15,138.74 L368.96,138.75 L369.77,138.76 L370.57,138.77 L371.38,138.78 L372.19,138.78 L372.99,138.79 L373.80,138.80 L374.61,138.81 L375.41,138.82 L376.22,138.83 L377.03,138.83 L377.83,138.84 L378.64,138.85 L379.45,138.86 L380.25,138.87 L381.06,138.87 L381.87,138.88 L382.68,138.89 L383.48,138.90 L384.29,138.90 L385.09,138.91 L385.90,138.92 L386.71,138.93 L387.51,138.93 L388.32,138.94 L389.13,138.95 L389.93,138.96 L390.74,138.96 L391.55,138.97 L392.35,138.98 L393.16,138.98 L393.97,138.99 L394.77,139.00 L395.58,139.00 L396.38,139.01 L397.19,139.02 L398.00,139.02 L398.80,139.03 L399.61,139.04 L400.41,139.04 L401.22,139.05 L402.03,139.06 L402.83,139.06 L403.64,139.07 L404.44,139.08 L405.25,139.08 L406.05,139.09 L406.86,139.10 L407.67,139.10 L408.47,139.11 L409.28,139.12 L410.08,139.12 L410.89,139.13 L411.69,139.13 L412.50,139.14 L413.30,139.15 L414.11,139.15 L414.91,139.16 L415.72,139.17 L416.52,139.17 L417.33,139.18 L418.13,139.19 L418.94,139.19 L419.74,139.20 L420.54,139.21 L421.35,139.21 L422.15,139.22 L422.96,139.23 L423.76,139.23 L424.57,139.24 L425.37,139.25 L426.17,139.25 L426.98,139.26 L427.78,139.27 L428.59,139.27 L429.39,139.28 L430.19,139.29 L431.00,139.29 L431.80,139.30 L432.60,139.31 L433.41,139.31 L434.21,139.32 L435.01,139.33 L435.82,139.34 L436.62,139.34 L437.42,139.35 L438.22,139.36 L439.03,139.37 L439.83,139.37 L440.63,139.38 L441.43,139.39 L442.24,139.40 L443.04,139.40 L443.84,139.41 L444.64,139.42 L445.44,139.43 L446.24,139.44 L447.05,139.44 L447.85,139.45 L448.65,139.46 L449.45,139.47 L450.25,139.48 L451.05,139.49 L451.85,139.50 L452.65,139.50 L453.45,139.51 L454.26,139.52 L455.06,139.53 L455.86,139.54 L456.66,139.55 L457.46,139.56 L458.26,139.57 L459.06,139.58 L459.86,139.59 L460.66,139.60 L461.46,139.61 L462.25,139.62 L463.05,139.63 L463.85,139.64 L464.65,139.65 L465.45,139.66 L466.25,139.67 L467.05,139.68 L467.85,139.69 L468.65,139.70 L469.44,139.71 L470.24,139.73 L471.04,139.74 L471.84,139.75 L472.63,139.76 L473.43,139.77 L474.23,139.78 L475.03,139.80 L475.82,139.81 L476.62,139.82 L477.42,139.83 L478.21,139.85 L479.01,139.86 L479.81,139.87 L480.60,139.89 L481.40,139.90" stroke="#ff0000" stroke-width="2.0" fill="none" stroke-linejoin="bevel"/><path d="M75.00,183.10 L75.25,182.34 L75.50,181.57 L75.75,180.81 L76.00,180.04 L76.25,179.28 L76.50,178.51 L76.75,177.75 L77.00,176.99 L77.25,176.22 L77.50,175.46 L77.76,174.69 L78.01,173.93 L78.26,173.16 L78.52,172.40 L78.77,171.63 L79.03,170.87 L79.28,170.10 L79.54,169.34 L79.79,168.57 L80.05,167.81 L80.31,167.05 L80.56,166.28 L80.82,165.52 L81.08,164.75 L81.34,163.99 L81.60,163.22 L81.85,162.46 L82.11,161.69 L82.37,160.93 L82.63,160.16 L82.90,159.40 L83.16,158.64 L83.42,157.87 L83.68,157.11 L83.94,156.34 L84.20,155.58 L84.47,154.81 L84.73,154.05 L84.99,153.29 L85.26,152.52 L85.52,151.76 L85.79,150.99 L86.05,150.23 L86.32,149.46 L86.58,148.70 L86.85,147.94 L87.12,147.17 L87.38,146.41 L87.65,145.65 L87.92,144.88 L88.18,144.12 L88.45,143.36 L88.72,142.59 L88.99,141.83 L89.26,141.07 L89.53,140.30 L89.80,139.54 L90.07,138.78 L90.34,138.01 L90.61,137.25 L90.88,136.49 L91.15,135.73 L91.42,134.96 L91.69,134.20 L91.96,133.44 L92.24,132.68 L92.51,131.91 L92.78,131.15 L93.05,130.39 L93.33,129.63 L93.60,128.87 L93.88,128.11 L94.15,127.34 L94.42,126.58 L94.70,125.82 L94.97,125.06 L95.25,124.30 L95.52,123.54 L95.80,122.78 L96.07,122.02 L96.35,121.26 L96.63,120.50 L96.90,119.74 L97.18,118.98 L97.46,118.22 L97.73,117.46 L98.01,116.70 L98.29,115.94 L98.57,115.18 L98.85,114.42 L99.12,113.66 L99.40,112.91 L99.68,112.15 L99.96,111.39 L100.24,110.63 L100.52,109.87 L100.80,109.12 L101.08,108.36 L101.36,107.60 L101.64,106.84 L101.92,106.09 L102.20,105.33 L102.49,104.57 L102.77,103.82 L103.05,103.06 L103.33,102.31 L103.62,101.55 L103.90,100.79 L104.18,100.04 L104.47,99.28 L104.75,98.53 L105.04,97.77 L105.32,97.02 L105.61,96.27 L105.90,95.51 L106.19,94.76 L106.47,94.01 L106.76,93.25 L107.05,92.50 L107.34,91.75 L107.63,90.99 L107.92,90.24 L108.21,89.49 L108.50,88.74 L108.79,87.99 L109.09,87.23 L109.38,86.48 L109.67,85.73 L109.97,84.98 L110.26,84.23 L110.56,83.48 L110.85,82.73 L111.15,81.98 L111.45,81.23 L111.74,80.48 L112.04,79.73 L112.34,78.99 L112.64,78.24 L112.94,77.49 L113.24,76.74 L113.54,76.00 L113.85,75.25 L114.15,74.50 L114.45,73.75 L114.76,73.01 L115.06,72.26 L115.37,71.52 L115.68,70.77 L115.99,70.03 L116.29,69.28 L116.60,68.54 L116.91,67.79 L117.23,67.05 L117.54,66.31 L117.85,65.56 L118.16,64.82 L118.48,64.08 L118.79,63.34 L119.11,62.59 L119.43,61.85 L119.74,61.11 L120.06,60.37 L120.38,59.63 L120.70,58.89 L121.02,58.15 L121.35,57.41 L121.67,56.67 L121.99,55.93 L122.32,55.19 L122.65,54.46 L122.97,53.72 L123.30,52.98 L123.63,52.24 L123.96,51.51 L124.29,50.77 L124.62,50.04 L124.96,49.30 L125.29,48.57 L125.63,47.83 L125.96,47.10 L126.30,46.36 L126.64,45.63 L126.98,44.90 L127.32,44.16 L127.66,43.43 L128.01,42.70 L128.35,41.97 L128.70,41.24 L129.04,40.50 L129.39,39.77 L129.74,39.04 L130.09,38.31 L130.44,37.59 L130.79,36.86 L131.14,36.13 L131.50,35.40 L131.50,36.15 L131.50,36.90 L131.50,37.66 L131.50,38.43 L131.50,39.21 L131.50,39.98 L131.50,40.77 L131.50,41.55 L131.50,42.35 L131.50,43.14 L131.50,43.94 L131.50,44.75 L131.50,45.55 L131.50,46.36 L131.52,47.18 L131.57,47.99 L131.63,48.81 L131.69,49.63 L131.76,50.45 L131.84,51.27 L131.93,52.09 L132.02,52.92 L132.12,53.74 L132.23,54.57 L132.35,55.39 L132.47,56.21 L132.60,57.03 L132.74,57.86 L132.89,58.68 L133.05,59.49 L133.21,60.31 L133.39,61.12 L133.57,61.93 L133.76,62.74 L133.96,63.55 L134.17,64.35 L134.39,65.15 L134.61,65.94 L134.85,66.73 L135.10,67.51 L135.35,68.29 L135.62,69.07 L135.90,69.84 L136.18,70.60 L136.48,71.36 L136.78,72.11 L137.10,72.85 L137.43,73.59 L137.77,74.32 L138.11,75.04 L138.47,75.76 L138.84,76.46 L139.22,77.16 L139.62,77.85 L140.02,78.53 L140.43,79.20 L140.86,79.86 L141.30,80.51 L141.75,81.15 L142.21,81.78 L142.68,82.40 L143.17,83.01 L143.67,83.61 L144.18,84.19 L144.70,84.77 L145.23,85.33 L145.78,85.88 L146.34,86.42 L146.91,86.94 L147.49,87.45 L148.09,87.95 L148.69,88.44 L149.30,88.92 L149.93,89.39 L150.56,89.84 L151.21,90.28 L151.86,90.71 L152.52,91.13 L153.19,91.53 L153.87,91.93 L154.56,92.31 L155.25,92.68 L155.95,93.04 L156.66,93.39 L157.38,93.72 L158.10,94.05 L158.83,94.36 L159.57,94.67 L160.31,94.96 L161.05,95.25 L161.81,95.53 L162.56,95.79 L163.32,96.05 L164.09,96.30 L164.86,96.55 L165.63,96.78 L166.41,97.01 L167.19,97.23 L167.97,97.45 L168.75,97.66 L169.54,97.86 L170.33,98.06 L171.12,98.26 L171.91,98.45 L172.70,98.63 L173.50,98.82 L174.29,99.00 L175.08,99.17 L175.88,99.35 L176.67,99.52 L177.47,99.68 L178.26,99.85 L179.06,100.01 L179.85,100.17 L180.65,100.33 L181.44,100.48 L182.24,100.63 L183.03,100.78 L183.83,100.93 L184.62,101.07 L185.42,101.21 L186.21,101.35 L187.01,101.49 L187.80,101.62 L188.60,101.75 L189.40,101.88 L190.19,102.01 L190.99,102.13 L191.78,102.25 L192.58,102.37 L193.38,102.49 L194.17,102.61 L194.97,102.72 L195.77,102.83 L196.56,102.94 L197.36,103.04 L198.16,103.15 L198.95,103.25 L199.75,103.35 L200.55,103.45 L201.34,103.54 L202.14,103.64 L202.94,103.73 L203.73,103.82 L204.53,103.91 L205.33,103.99 L206.13,104.08 L206.92,104.16 L207.72,104.24 L208.52,104.32 L209.32,104.40 L210.12,104.47 L210.91,104.54 L211.71,104.62 L212.51,104.69 L213.31,104.75 L214.11,104.82 L214.90,104.89 L215.70,104.95 L216.50,105.01 L217.30,105.07 L218.10,105.13 L218.90,105.19 L219.70,105.25 L220.49,105.30 L221.29,105.36 L222.09,105.41 L222.89,105.46 L223.69,105.51 L224.49,105.56 L225.29,105.60 L226.09,105.65 L226.89,105.70 L227.69,105.74 L228.49,105.78 L229.29,105.82 L230.09,105.86 L230.89,105.90 L231.69,105.94 L232.48,105.98 L233.28,106.01 L234.08,106.05 L234.88,106.08 L235.68,106.12 L236.48,106.15 L237.28,106.18 L238.09,106.21 L238.89,106.24 L239.69,106.27 L240.49,106.30 L241.29,106.33 L242.09,106.36 L242.89,106.38 L243.69,106.41 L244.49,106.43 L245.29,106.46 L246.09,106.48 L246.89,106.51 L247.69,106.53 L248.49,106.55 L249.29,106.57 L250.10,106.59 L250.90,106.62 L251.70,106.64 L252.50,106.66 L253.30,106.68 L254.10,106.70 L254.90,106.72 L255.70,106.74 L256.51,106.76 L257.31,106.77 L258.11,106.79 L258.91,106.81 L259.71,106.83 L260.51,106.85 L261.32,106.87 L262.12,106.88 L262.92,106.90 L263.72,106.92 L264.52,106.94 L265.33,106.96 L266.13,106.98 L266.93,106.99 L267.73,107.01 L268.53,107.03 L269.34,107.05 L270.14,107.07 L270.94,107.08 L271.74,107.10 L272.55,107.12 L273.35,107.14 L274.15,107.16 L274.95,107.17 L275.76,107.19 L276.56,107.21 L277.36,107.23 L278.16,107.24 L278.97,107.26 L279.77,107.28 L280.57,107.30 L281.37,107.31 L282.18,107.33 L282.98,107.35 L283.78,107.37 L284.59,107.38 L285.39,107.40 L286.19,107.42 L287.00,107.44 L287.80,107.45 L288.60,107.47 L289.40,107.49 L290.21,107.51 L291.01,107.52 L291.81,107.54 L292.62,107.56 L293.42,107.57 L294.22,107.59 L295.03,107.61 L295.83,107.62 L296.63,107.64 L297.44,107.66 L298.24,107.67 L299.05,107.69 L299.85,107.71 L300.65,107.72 L301.46,107.74 L302.26,107.76 L303.06,107.77 L303.87,107.79 L304.67,107.81 L305.47,107.82 L306.28,107.84 L307.08,107.86 L307.89,107.87 L308.69,107.89 L309.49,107.91 L310.30,107.92 L311.10,107.94 L311.91,107.95 L312.71,107.97 L313.51,107.99 L314.32,108.00 L315.12,108.02 L315.93,108.03 L316.73,108.05 L317.53,108.06 L318.34,108.08 L319.14,108.10 L319.95,108.11 L320.75,108.13 L321.56,108.14 L322.36,108.16 L323.16,108.17 L323.97,108.19 L324.77,108.20 L325.58,108.22 L326.38,108.23 L327.19,108.25 L327.99,108.26 L328.79,108.28 L329.60,108.29 L330.40,108.31 L331.21,108.32 L332.01,108.34 L332.82,108.35 L333.62,108.37 L334.42,108.38 L335.23,108.40 L336.03,108.41 L336.84,108.43 L337.64,108.44 L338.45,108.46 L339.25,108.47 L340.06,108.48 L340.86,108.50 L341.67,108.51 L342.47,108.53 L343.27,108.54 L344.08,108.55 L344.88,108.57 L345.69,108.58 L346.49,108.60 L347.30,108.61 L348.10,108.62 L348.91,108.64 L349.71,108.65 L350.52,108.66 L351.32,108.68 L352.12,108.69 L352.93,108.70 L353.73,108.72 L354.54,108.73 L355.34,108.74 L356.15,108.76 L356.95,108.77 L357.76,108.78 L358.56,108.80 L359.37,108.81 L360.17,108.82 L360.97,108.83 L361.78,108.85 L362.58,108.86 L363.39,108.87 L364.19,108.88 L365.00,108.90 L365.80,108.91 L366.61,108.92 L367.41,108.93 L368.22,108.94 L369.02,108.96 L369.83,108.97 L370.63,108.98 L371.43,108.99 L372.24,109.00 L373.04,109.02 L373.85,109.03 L374.65,109.04 L375.46,109.05 L376.26,109.06 L377.07,109.07 L377.87,109.08 L378.67,109.09 L379.48,109.11 L380.28,109.12 L381.09,109.13 L381.89,109.14 L382.70,109.15 L383.50,109.16 L384.30,109.17 L385.11,109.18 L385.91,109.19 L386.72,109.20 L387.52,109.21 L388.33,109.22 L389.13,109.23 L389.93,109.24 L390.74,109.25 L391.54,109.26 L392.35,109.27 L393.15,109.28 L393.96,109.29 L394.76,109.30 L395.56,109.31 L396.37,109.32 L397.17,109.33 L397.98,109.34 L398.78,109.35 L399.58,109.36 L400.39,109.37 L401.19,109.38 L402.00,109.38 L402.80,109.39 L403.60,109.40 L404.41,109.41 L405.21,109.42 L406.01,109.43 L406.82,109.44 L407.62,109.44 L408.43,109.45 L409.23,109.46 L410.03,109.47 L410.84,109.48 L411.64,109.48 L412.44,109.49 L413.25,109.50 L414.05,109.51 L414.85,109.51 L415.66,109.52 L416.46,109.53 L417.26,109.54 L418.07,109.54 L418.87,109.55 L419.67,109.56 L420.48,109.56 L421.28,109.57 L422.08,109.58 L422.89,109.58 L423.69,109.59 L424.49,109.60 L425.30,109.60 L426.10,109.61 L426.90,109.62 L427.71,109.62 L428.51,109.63 L429.31,109.63 L430.11,109.64 L430.92,109.65 L431.72,109.65 L432.52,109.66 L433.33,109.66 L434.13,109.67 L434.93,109.67 L435.73,109.68 L436.54,109.68 L437.34,109.69 L438.14,109.69 L438.94,109.70 L439.75,109.70 L440.55,109.71 L441.35,109.71 L442.15,109.72 L442.95,109.72 L443.76,109.72 L444.56,109.73 L445.36,109.73 L446.16,109.74 L446.96,109.74 L447.77,109.74 L448.57,109.75 L449.37,109.75 L450.17,109.75 L450.97,109.76 L451.78,109.76 L452.58,109.76 L453.38,109.77 L454.18,109.77 L454.98,109.77 L455.78,109.77 L456.58,109.78 L457.39,109.78 L458.19,109.78 L458.99,109.78 L459.79,109.79 L460.59,109.79 L461.39,109.79 L462.19,109.79 L462.99,109.79 L463.79,109.79 L464.60,109.80 L465.40,109.80 L466.20,109.80 L467.00,109.80 L467.80,109.80 L468.60,109.80 L469.40,109.80 L470.20,109.80 L471.00,109.80 L471.80,109.80 L472.60,109.80 L473.40,109.80 L474.20,109.80 L475.00,109.80 L475.80,109.80 L476.60,109.80 L477.40,109.80 L478.20,109.80 L479.00,109.80 L479.80,109.80 L480.60,109.80 L481.40,109.80" stroke="#ff0000" stroke-width="2.0" fill="none" stroke-linejoin="bevel" stroke-dasharray="2.45 0.98"/><path d="M75.10,257.10 L75.51,256.40 L75.92,255.70 L76.32,255.00 L76.73,254.30 L77.14,253.60 L77.55,252.91 L77.95,252.21 L78.36,251.51 L78.77,250.81 L79.18,250.11 L79.58,249.41 L79.99,248.72 L80.40,248.02 L80.81,247.32 L81.21,246.62 L81.62,245.93 L82.03,245.23 L82.44,244.54 L82.84,243.84 L83.25,243.14 L83.66,242.45 L84.07,241.75 L84.47,241.06 L84.88,240.36 L85.29,239.67 L85.70,238.97 L86.11,238.28 L86.52,237.59 L86.93,236.89 L87.34,236.20 L87.75,235.51 L88.16,234.81 L88.57,234.12 L88.98,233.43 L89.39,232.74 L89.80,232.05 L90.21,231.36 L90.62,230.67 L91.03,229.98 L91.44,229.29 L91.85,228.60 L92.27,227.91 L92.68,227.22 L93.09,226.53 L93.51,225.84 L93.92,225.15 L94.33,224.47 L94.75,223.78 L95.16,223.09 L95.58,222.41 L95.99,221.72 L96.41,221.03 L96.83,220.35 L97.24,219.66 L97.66,218.98 L98.08,218.30 L98.50,217.61 L98.92,216.93 L99.33,216.25 L99.75,215.56 L100.17,214.88 L100.60,214.20 L101.02,213.52 L101.44,212.84 L101.86,212.16 L102.28,211.48 L102.71,210.80 L103.13,210.12 L103.56,209.44 L103.98,208.77 L104.41,208.09 L104.83,207.41 L105.26,206.73 L105.69,206.06 L106.12,205.38 L106.55,204.71 L106.98,204.03 L107.41,203.36 L107.84,202.69 L108.27,202.01 L108.70,201.34 L109.14,200.67 L109.57,200.00 L110.00,199.33 L110.44,198.66 L110.88,197.99 L111.31,197.32 L111.75,196.65 L112.19,195.98 L112.63,195.32 L113.07,194.65 L113.51,193.98 L113.95,193.32 L114.39,192.65 L114.84,191.99 L115.28,191.32 L115.73,190.66 L116.17,190.00 L116.62,189.33 L117.07,188.67 L117.52,188.01 L117.97,187.35 L118.42,186.69 L118.87,186.03 L119.32,185.38 L119.78,184.72 L120.23,184.06 L120.69,183.40 L121.14,182.75 L121.60,182.09 L122.06,181.44 L122.52,180.78 L122.98,180.13 L123.44,179.48 L123.90,178.83 L124.36,178.18 L124.83,177.52 L125.29,176.87 L125.76,176.23 L126.23,175.58 L126.69,174.93 L127.16,174.28 L127.63,173.64 L128.11,172.99 L128.58,172.35 L129.05,171.70 L129.52,171.06 L130.00,170.42 L130.48,169.77 L130.95,169.13 L131.43,168.49 L131.91,167.85 L132.39,167.21 L132.87,166.57 L133.35,165.94 L133.84,165.30 L134.32,164.67 L134.81,164.03 L135.30,163.40 L135.78,162.76 L136.27,162.13 L136.76,161.50 L137.25,160.87 L137.74,160.24 L138.24,159.61 L138.73,158.98 L139.23,158.35 L139.72,157.72 L140.22,157.10 L140.72,156.47 L141.22,155.85 L141.72,155.22 L142.22,154.60 L142.72,153.98 L143.23,153.36 L143.73,152.74 L144.24,152.12 L144.75,151.50 L145.26,150.88 L145.77,150.26 L146.28,149.65 L146.79,149.03 L147.30,148.42 L147.82,147.81 L148.33,147.19 L148.85,146.58 L149.37,145.97 L149.88,145.36 L150.40,144.75 L150.93,144.15 L151.45,143.54 L151.97,142.93 L152.50,142.33 L153.02,141.72 L153.55,141.12 L154.08,140.52 L154.61,139.92 L155.14,139.32 L155.67,138.72 L156.20,138.12 L156.73,137.52 L157.27,136.92 L157.81,136.33 L158.34,135.73 L158.88,135.14 L159.42,134.54 L159.96,133.95 L160.50,133.36 L161.04,132.77 L161.59,132.18 L162.13,131.59 L162.68,131.00 L163.22,130.42 L163.77,129.83 L164.32,129.24 L164.87,128.66 L165.42,128.08 L165.97,127.49 L166.52,126.91 L167.08,126.33 L167.63,125.75 L168.19,125.17 L168.74,124.59 L169.30,124.01 L169.86,123.44 L170.42,122.86 L170.98,122.29 L171.54,121.71 L172.10,121.14 L172.67,120.56 L173.23,119.99 L173.80,119.42 L174.36,118.85 L174.93,118.28 L175.50,117.71 L176.07,117.15 L176.64,116.58 L177.21,116.01 L177.78,115.45 L178.35,114.88 L178.92,114.32 L179.50,113.76 L180.07,113.19 L180.65,112.63 L181.23,112.07 L181.80,111.51 L182.38,110.95 L182.96,110.40 L183.54,109.84 L184.12,109.28 L184.71,108.73 L185.29,108.17 L185.87,107.62 L186.46,107.07 L187.04,106.51 L187.63,105.96 L188.21,105.41 L188.80,104.86 L189.39,104.31 L189.98,103.76 L190.57,103.21 L191.16,102.67 L191.75,102.12 L192.34,101.57 L192.94,101.03 L193.53,100.49 L194.13,99.94 L194.72,99.40 L195.32,98.86 L195.91,98.32 L196.51,97.78 L197.11,97.24 L197.71,96.70 L198.31,96.16 L198.91,95.62 L199.51,95.09 L200.11,94.55 L200.71,94.02 L201.32,93.48 L201.92,92.95 L202.52,92.41 L203.13,91.88 L203.73,91.35 L204.34,90.82 L204.95,90.29 L205.56,89.76 L206.16,89.23 L206.77,88.70 L207.38,88.18 L207.99,87.65 L208.60,87.13 L209.21,86.60 L209.83,86.08 L210.44,85.55 L211.05,85.03 L211.67,84.51 L212.28,83.99 L212.89,83.46 L213.51,82.94 L214.13,82.42 L214.74,81.91 L215.36,81.39 L215.98,80.87 L216.60,80.35 L217.21,79.84 L217.83,79.32 L218.45,78.81 L219.07,78.29 L219.70,77.78 L220.32,77.27 L220.94,76.75 L221.56,76.24 L222.18,75.73 L222.81,75.22 L223.43,74.71 L224.06,74.20 L224.68,73.69 L225.31,73.19 L225.93,72.68 L226.56,72.17 L227.18,71.67 L227.81,71.16 L228.44,70.66 L229.07,70.16 L229.70,69.65 L230.32,69.15 L230.95,68.65 L231.58,68.15 L232.21,67.65 L232.84,67.15 L233.47,66.65 L234.11,66.15 L234.74,65.65 L235.37,65.15 L236.00,64.66 L236.63,64.16 L237.27,63.66 L237.90,63.17 L238.53,62.67 L239.17,62.18 L239.80,61.69 L240.44,61.19 L241.07,60.70 L241.71,60.21 L242.34,59.72 L242.98,59.23 L243.62,58.74 L244.25,58.25 L244.89,57.76 L245.53,57.27 L246.17,56.79 L246.80,56.30 L247.44,55.81 L248.08,55.33 L248.72,54.84 L249.36,54.36 L250.00,53.87 L250.64,53.39 L251.28,52.91 L251.92,52.42 L252.56,51.94 L253.20,51.46 L253.84,50.98 L254.48,50.50 L255.12,50.02 L255.76,49.54 L256.40,49.06 L257.04,48.58 L257.69,48.11 L258.33,47.63 L258.97,47.15 L259.61,46.68 L260.26,46.20 L260.90,45.73 L261.54,45.25 L262.18,44.78 L262.83,44.31 L263.47,43.83 L264.11,43.36 L264.76,42.89 L265.40,42.42 L266.05,41.95 L266.69,41.48 L267.33,41.01 L267.98,40.54 L268.62,40.07 L269.27,39.60 L269.91,39.13 L270.56,38.67 L271.20,38.20 L271.20,39.06 L271.20,39.92 L271.20,40.77 L271.20,41.62 L271.20,42.47 L271.20,43.31 L271.20,44.15 L271.21,44.98 L271.27,45.81 L271.35,46.64 L271.44,47.46 L271.54,48.27 L271.66,49.09 L271.79,49.89 L271.93,50.70 L272.09,51.49 L272.26,52.29 L272.44,53.08 L272.63,53.86 L272.84,54.64 L273.06,55.41 L273.29,56.18 L273.53,56.95 L273.79,57.70 L274.06,58.46 L274.33,59.21 L274.62,59.95 L274.92,60.68 L275.24,61.42 L275.56,62.14 L275.89,62.86 L276.24,63.58 L276.60,64.28 L276.96,64.99 L277.34,65.68 L277.73,66.37 L278.12,67.06 L278.53,67.74 L278.95,68.41 L279.38,69.08 L279.82,69.74 L280.26,70.39 L280.72,71.04 L281.18,71.68 L281.66,72.31 L282.14,72.94 L282.64,73.56 L283.14,74.17 L283.65,74.78 L284.17,75.38 L284.70,75.97 L285.23,76.56 L285.78,77.14 L286.33,77.71 L286.89,78.28 L287.45,78.84 L288.03,79.39 L288.61,79.94 L289.20,80.48 L289.79,81.01 L290.39,81.54 L291.00,82.06 L291.62,82.58 L292.24,83.09 L292.86,83.59 L293.50,84.09 L294.13,84.58 L294.78,85.06 L295.43,85.54 L296.08,86.01 L296.74,86.47 L297.40,86.93 L298.07,87.38 L298.75,87.83 L299.42,88.27 L300.11,88.70 L300.79,89.13 L301.48,89.55 L302.17,89.96 L302.87,90.37 L303.57,90.78 L304.27,91.17 L304.98,91.56 L305.69,91.95 L306.40,92.33 L307.12,92.70 L307.83,93.07 L308.55,93.43 L309.27,93.78 L310.00,94.13 L310.72,94.48 L311.45,94.81 L312.18,95.15 L312.91,95.47 L313.64,95.79 L314.37,96.11 L315.10,96.42 L315.84,96.72 L316.58,97.02 L317.32,97.31 L318.06,97.60 L318.80,97.88 L319.54,98.16 L320.29,98.44 L321.04,98.71 L321.78,98.97 L322.53,99.23 L323.29,99.48 L324.04,99.73 L324.79,99.98 L325.55,100.22 L326.30,100.45 L327.06,100.69 L327.82,100.91 L328.58,101.14 L329.34,101.36 L330.11,101.57 L330.87,101.78 L331.64,101.99 L332.41,102.19 L333.17,102.39 L333.94,102.59 L334.71,102.78 L335.49,102.97 L336.26,103.16 L337.03,103.34 L337.81,103.52 L338.58,103.69 L339.36,103.87 L340.14,104.04 L340.92,104.20 L341.70,104.37 L342.48,104.53 L343.27,104.68 L344.05,104.84 L344.83,104.99 L345.62,105.14 L346.41,105.29 L347.19,105.43 L347.98,105.57 L348.77,105.71 L349.56,105.85 L350.35,105.99 L351.15,106.12 L351.94,106.25 L352.73,106.38 L353.53,106.51 L354.32,106.63 L355.12,106.75 L355.92,106.88 L356.71,107.00 L357.51,107.11 L358.31,107.23 L359.11,107.35 L359.91,107.46 L360.71,107.57 L361.52,107.69 L362.32,107.80 L363.12,107.91 L363.92,108.01 L364.73,108.12 L365.53,108.23 L366.34,108.33 L367.15,108.43 L367.95,108.54 L368.76,108.64 L369.57,108.74 L370.37,108.83 L371.18,108.93 L371.99,109.03 L372.80,109.12 L373.61,109.22 L374.42,109.31 L375.23,109.40 L376.04,109.49 L376.85,109.58 L377.67,109.67 L378.48,109.76 L379.29,109.84 L380.10,109.93 L380.92,110.01 L381.73,110.10 L382.54,110.18 L383.36,110.26 L384.17,110.34 L384.98,110.42 L385.80,110.50 L386.61,110.58 L387.43,110.66 L388.24,110.74 L389.06,110.81 L389.87,110.89 L390.69,110.96 L391.50,111.03 L392.32,111.11 L393.13,111.18 L393.95,111.25 L394.76,111.32 L395.58,111.39 L396.39,111.46 L397.21,111.52 L398.02,111.59 L398.84,111.66 L399.65,111.72 L400.47,111.79 L401.28,111.85 L402.10,111.92 L402.91,111.98 L403.73,112.04 L404.54,112.10 L405.35,112.16 L406.17,112.23 L406.98,112.29 L407.79,112.35 L408.61,112.40 L409.42,112.46 L410.23,112.52 L411.04,112.58 L411.86,112.64 L412.67,112.69 L413.48,112.75 L414.29,112.80 L415.10,112.86 L415.91,112.91 L416.72,112.97 L417.53,113.02 L418.34,113.08 L419.14,113.13 L419.95,113.18 L420.76,113.24 L421.57,113.29 L422.37,113.34 L423.18,113.39 L423.98,113.44 L424.79,113.49 L425.59,113.54 L426.39,113.59 L427.20,113.64 L428.00,113.69 L428.80,113.74 L429.60,113.79 L430.40,113.84 L431.20,113.89 L432.00,113.94 L432.80,113.99 L433.59,114.04 L434.39,114.09 L435.18,114.14 L435.98,114.19 L436.77,114.23 L437.57,114.28 L438.36,114.33 L439.15,114.38 L439.94,114.43 L440.73,114.47 L441.52,114.52 L442.31,114.57 L443.09,114.62 L443.88,114.67 L444.66,114.71 L445.45,114.76 L446.23,114.81 L447.01,114.86 L447.79,114.91 L448.57,114.96 L449.35,115.00 L450.13,115.05 L450.90,115.10 L451.68,115.15 L452.45,115.20 L453.23,115.25 L454.00,115.30 L461.00,116.60 L481.40,118.00" stroke="#00ff00" stroke-width="2.0" fill="none" stroke-linejoin="bevel"/><path d="M75.10,272.70 L75.58,272.02 L76.05,271.33 L76.52,270.65 L76.99,269.96 L77.45,269.27 L77.90,268.58 L78.36,267.89 L78.80,267.20 L79.25,266.51 L79.69,265.82 L80.12,265.13 L80.55,264.43 L80.98,263.74 L81.40,263.04 L81.83,262.34 L82.24,261.65 L82.65,260.95 L83.06,260.25 L83.47,259.55 L83.87,258.85 L84.27,258.15 L84.67,257.45 L85.06,256.75 L85.45,256.05 L85.84,255.34 L86.23,254.64 L86.61,253.93 L86.99,253.23 L87.36,252.52 L87.74,251.82 L88.11,251.11 L88.48,250.40 L88.85,249.69 L89.21,248.99 L89.58,248.28 L89.94,247.57 L90.30,246.86 L90.65,246.15 L91.01,245.44 L91.36,244.73 L91.72,244.02 L92.07,243.30 L92.42,242.59 L92.76,241.88 L93.11,241.17 L93.45,240.45 L93.80,239.74 L94.14,239.03 L94.48,238.31 L94.82,237.60 L95.16,236.88 L95.50,236.17 L95.84,235.45 L96.18,234.74 L96.51,234.02 L96.85,233.31 L97.18,232.59 L97.52,231.87 L97.85,231.16 L98.19,230.44 L98.52,229.72 L98.86,229.01 L99.19,228.29 L99.53,227.57 L99.86,226.86 L100.19,226.14 L100.53,225.42 L100.86,224.71 L101.20,223.99 L101.54,223.27 L101.87,222.56 L102.21,221.84 L102.55,221.12 L102.89,220.41 L103.22,219.69 L103.56,218.97 L103.91,218.26 L104.25,217.54 L104.59,216.82 L104.94,216.11 L105.28,215.39 L105.63,214.68 L105.98,213.96 L106.32,213.25 L106.67,212.53 L107.02,211.82 L107.38,211.10 L107.73,210.39 L108.08,209.67 L108.44,208.96 L108.80,208.25 L109.15,207.53 L109.51,206.82 L109.87,206.11 L110.23,205.40 L110.60,204.69 L110.96,203.98 L111.33,203.26 L111.69,202.55 L112.06,201.84 L112.43,201.14 L112.80,200.43 L113.17,199.72 L113.54,199.01 L113.92,198.30 L114.29,197.60 L114.67,196.89 L115.05,196.18 L115.43,195.48 L115.81,194.77 L116.19,194.07 L116.58,193.37 L116.96,192.67 L117.35,191.96 L117.74,191.26 L118.13,190.56 L118.52,189.86 L118.91,189.16 L119.30,188.46 L119.70,187.77 L120.10,187.07 L120.50,186.37 L120.90,185.68 L121.30,184.98 L121.70,184.29 L122.10,183.60 L122.51,182.90 L122.92,182.21 L123.33,181.52 L123.74,180.83 L124.15,180.14 L124.57,179.45 L124.98,178.77 L125.40,178.08 L125.82,177.40 L126.24,176.71 L126.66,176.03 L127.09,175.35 L127.51,174.67 L127.94,173.99 L128.37,173.31 L128.80,172.63 L129.23,171.95 L129.67,171.28 L130.10,170.60 L130.54,169.93 L130.98,169.26 L131.42,168.58 L131.87,167.91 L132.31,167.25 L132.76,166.58 L133.21,165.91 L133.66,165.25 L134.11,164.58 L134.56,163.92 L135.02,163.26 L135.48,162.60 L135.94,161.94 L136.40,161.28 L136.87,160.62 L137.33,159.97 L137.80,159.31 L138.27,158.66 L138.74,158.01 L139.21,157.36 L139.69,156.71 L140.17,156.06 L140.65,155.42 L141.13,154.77 L141.61,154.13 L142.10,153.49 L142.58,152.85 L143.07,152.21 L143.56,151.57 L144.06,150.93 L144.55,150.30 L145.05,149.67 L145.54,149.03 L146.04,148.40 L146.54,147.77 L147.05,147.14 L147.55,146.51 L148.06,145.89 L148.57,145.26 L149.07,144.64 L149.59,144.02 L150.10,143.39 L150.61,142.77 L151.13,142.16 L151.65,141.54 L152.17,140.92 L152.69,140.31 L153.21,139.69 L153.73,139.08 L154.26,138.47 L154.78,137.86 L155.31,137.25 L155.84,136.64 L156.37,136.03 L156.91,135.42 L157.44,134.82 L157.97,134.21 L158.51,133.61 L159.05,133.01 L159.59,132.41 L160.13,131.81 L160.67,131.21 L161.21,130.61 L161.76,130.02 L162.30,129.42 L162.85,128.83 L163.40,128.24 L163.95,127.64 L164.50,127.05 L165.05,126.46 L165.60,125.87 L166.16,125.29 L166.71,124.70 L167.27,124.11 L167.83,123.53 L168.38,122.94 L168.94,122.36 L169.50,121.78 L170.07,121.20 L170.63,120.62 L171.19,120.04 L171.76,119.46 L172.32,118.89 L172.89,118.31 L173.46,117.73 L174.02,117.16 L174.59,116.59 L175.16,116.01 L175.74,115.44 L176.31,114.87 L176.88,114.30 L177.45,113.73 L178.03,113.17 L178.60,112.60 L179.18,112.03 L179.76,111.47 L180.33,110.90 L180.91,110.34 L181.49,109.78 L182.07,109.21 L182.65,108.65 L183.23,108.09 L183.82,107.53 L184.40,106.98 L184.98,106.42 L185.57,105.86 L186.15,105.30 L186.73,104.75 L187.32,104.19 L187.91,103.64 L188.49,103.09 L189.08,102.54 L189.67,101.98 L190.26,101.43 L190.85,100.88 L191.43,100.33 L192.02,99.79 L192.61,99.24 L193.20,98.69 L193.80,98.14 L194.39,97.60 L194.98,97.05 L195.57,96.51 L196.16,95.97 L196.76,95.42 L197.35,94.88 L197.94,94.34 L198.54,93.80 L199.13,93.26 L199.72,92.72 L200.32,92.18 L200.91,91.64 L201.51,91.10 L202.10,90.57 L202.70,90.03 L203.29,89.49 L203.89,88.96 L204.48,88.42 L205.08,87.89 L205.68,87.36 L206.27,86.82 L206.87,86.29 L207.47,85.76 L208.06,85.23 L208.66,84.70 L209.26,84.17 L209.86,83.64 L210.46,83.11 L211.05,82.58 L211.65,82.05 L212.25,81.53 L212.85,81.00 L213.45,80.47 L214.05,79.95 L214.65,79.42 L215.25,78.90 L215.86,78.38 L216.46,77.85 L217.06,77.33 L217.66,76.81 L218.26,76.29 L218.87,75.77 L219.47,75.25 L220.08,74.73 L220.68,74.21 L221.28,73.69 L221.89,73.18 L222.50,72.66 L223.10,72.14 L223.71,71.63 L224.32,71.11 L224.92,70.60 L225.53,70.08 L226.14,69.57 L226.75,69.05 L227.36,68.54 L227.97,68.03 L228.58,67.52 L229.19,67.01 L229.80,66.50 L230.41,65.99 L231.03,65.48 L231.64,64.97 L232.25,64.46 L232.87,63.95 L233.48,63.44 L234.10,62.94 L234.71,62.43 L235.33,61.93 L235.95,61.42 L236.56,60.92 L237.18,60.41 L237.80,59.91 L238.42,59.41 L239.04,58.90 L239.66,58.40 L240.28,57.90 L240.90,57.40 L241.53,56.90 L242.15,56.40 L242.77,55.90 L243.40,55.40 L244.02,54.90 L244.65,54.40 L245.28,53.91 L245.90,53.41 L246.53,52.91 L247.16,52.42 L247.79,51.92 L248.42,51.43 L249.05,50.93 L249.68,50.44 L250.32,49.94 L250.95,49.45 L251.58,48.96 L252.22,48.47 L252.85,47.97 L253.49,47.48 L254.13,46.99 L254.77,46.50 L255.41,46.01 L256.04,45.52 L256.69,45.04 L257.33,44.55 L257.97,44.06 L258.61,43.57 L259.26,43.09 L259.90,42.60 L260.55,42.11 L261.19,41.63 L261.84,41.14 L262.49,40.66 L263.14,40.17 L263.79,39.69 L264.44,39.21 L265.09,38.72 L265.74,38.24 L266.40,37.76 L267.05,37.28 L267.71,36.80 L268.36,36.32 L269.02,35.84 L269.68,35.36 L270.34,34.88 L271.00,34.40 L271.00,35.27 L271.00,36.13 L271.00,36.99 L271.00,37.84 L271.00,38.69 L271.00,39.53 L271.00,40.37 L271.05,41.21 L271.12,42.04 L271.22,42.86 L271.32,43.68 L271.44,44.49 L271.58,45.30 L271.73,46.11 L271.90,46.90 L272.08,47.70 L272.27,48.48 L272.48,49.27 L272.70,50.04 L272.93,50.81 L273.18,51.58 L273.44,52.33 L273.71,53.08 L274.00,53.83 L274.29,54.57 L274.61,55.30 L274.93,56.03 L275.26,56.75 L275.61,57.46 L275.97,58.17 L276.34,58.87 L276.72,59.56 L277.11,60.25 L277.52,60.93 L277.93,61.60 L278.35,62.27 L278.79,62.93 L279.23,63.58 L279.69,64.22 L280.16,64.86 L280.63,65.48 L281.12,66.11 L281.61,66.72 L282.11,67.32 L282.63,67.92 L283.15,68.51 L283.68,69.09 L284.22,69.67 L284.76,70.23 L285.32,70.79 L285.88,71.34 L286.45,71.89 L287.03,72.42 L287.62,72.95 L288.21,73.47 L288.81,73.99 L289.42,74.49 L290.03,74.99 L290.65,75.49 L291.28,75.97 L291.92,76.45 L292.56,76.92 L293.20,77.39 L293.85,77.85 L294.51,78.30 L295.17,78.74 L295.84,79.18 L296.51,79.61 L297.19,80.04 L297.87,80.46 L298.56,80.87 L299.25,81.27 L299.95,81.67 L300.65,82.07 L301.35,82.45 L302.06,82.83 L302.77,83.21 L303.48,83.58 L304.20,83.94 L304.92,84.30 L305.64,84.65 L306.36,84.99 L307.09,85.33 L307.82,85.67 L308.55,86.00 L309.29,86.32 L310.02,86.64 L310.76,86.95 L311.50,87.25 L312.24,87.56 L312.98,87.85 L313.72,88.14 L314.47,88.43 L315.22,88.71 L315.96,88.98 L316.71,89.26 L317.46,89.52 L318.22,89.78 L318.97,90.04 L319.73,90.29 L320.48,90.54 L321.24,90.78 L322.00,91.02 L322.76,91.25 L323.52,91.48 L324.29,91.71 L325.05,91.93 L325.82,92.15 L326.59,92.36 L327.36,92.57 L328.13,92.77 L328.90,92.98 L329.67,93.17 L330.44,93.37 L331.22,93.56 L331.99,93.74 L332.77,93.93 L333.55,94.11 L334.33,94.28 L335.11,94.46 L335.89,94.63 L336.68,94.79 L337.46,94.96 L338.24,95.12 L339.03,95.28 L339.82,95.43 L340.61,95.58 L341.39,95.73 L342.18,95.88 L342.98,96.02 L343.77,96.17 L344.56,96.31 L345.35,96.44 L346.15,96.58 L346.94,96.71 L347.74,96.84 L348.54,96.97 L349.33,97.09 L350.13,97.21 L350.93,97.34 L351.73,97.46 L352.53,97.57 L353.34,97.69 L354.14,97.80 L354.94,97.92 L355.75,98.03 L356.55,98.14 L357.36,98.25 L358.16,98.35 L358.97,98.46 L359.78,98.57 L360.58,98.67 L361.39,98.77 L362.20,98.87 L363.01,98.97 L363.82,99.07 L364.63,99.17 L365.44,99.27 L366.25,99.36 L367.06,99.46 L367.88,99.55 L368.69,99.64 L369.50,99.73 L370.32,99.83 L371.13,99.91 L371.94,100.00 L372.76,100.09 L373.57,100.18 L374.39,100.26 L375.20,100.35 L376.02,100.43 L376.84,100.51 L377.65,100.59 L378.47,100.67 L379.29,100.75 L380.10,100.83 L380.92,100.91 L381.74,100.99 L382.56,101.06 L383.37,101.14 L384.19,101.21 L385.01,101.28 L385.83,101.35 L386.65,101.42 L387.46,101.49 L388.28,101.56 L389.10,101.63 L389.92,101.70 L390.74,101.77 L391.56,101.83 L392.37,101.90 L393.19,101.96 L394.01,102.02 L394.83,102.09 L395.65,102.15 L396.47,102.21 L397.28,102.27 L398.10,102.33 L398.92,102.38 L399.74,102.44 L400.55,102.50 L401.37,102.55 L402.19,102.61 L403.00,102.66 L403.82,102.72 L404.63,102.77 L405.45,102.82 L406.26,102.87 L407.08,102.92 L407.89,102.97 L408.71,103.02 L409.52,103.07 L410.34,103.12 L411.15,103.17 L411.96,103.21 L412.77,103.26 L413.58,103.31 L414.40,103.35 L415.21,103.39 L416.02,103.44 L416.83,103.48 L417.64,103.52 L418.44,103.56 L419.25,103.60 L420.06,103.64 L420.87,103.68 L421.67,103.72 L422.48,103.76 L423.28,103.80 L424.09,103.84 L424.89,103.87 L425.69,103.91 L426.50,103.94 L427.30,103.98 L428.10,104.01 L428.90,104.05 L429.70,104.08 L430.50,104.11 L431.29,104.15 L432.09,104.18 L432.89,104.21 L433.68,104.24 L434.48,104.27 L435.27,104.30 L436.06,104.33 L436.85,104.36 L437.64,104.39 L438.43,104.42 L439.22,104.44 L440.01,104.47 L440.80,104.50 L441.58,104.52 L442.37,104.55 L443.15,104.58 L443.93,104.60 L444.71,104.63 L445.49,104.65 L446.27,104.68 L447.05,104.70 L447.83,104.72 L448.60,104.75 L449.38,104.77 L450.15,104.79 L450.92,104.81 L451.69,104.84 L452.46,104.86 L453.23,104.88 L454.00,104.90 L481.40,107.50" stroke="#00ff00" stroke-width="2.0" fill="none" stroke-linejoin="bevel" stroke-dasharray="2.45 0.98"/></g><rect x="52.5" y="20.5" width="437.0" height="271.0" fill="none" stroke="#969696" stroke-width="0.9"/><line x1="348" y1="193.0" x2="361.3" y2="193.0" stroke="#2828ff" stroke-width="1.1"/><line x1="348" y1="224.0" x2="361.3" y2="224.0" stroke="#ff2828" stroke-width="1.1"/><line x1="348" y1="255.5" x2="361.3" y2="255.5" stroke="#28ff28" stroke-width="1.1"/><g font-family="'Liberation Serif', serif" fill="#000"><text x="57.20" y="307.2" font-size="15.5" textLength="8.40" lengthAdjust="spacingAndGlyphs">0</text><text x="119.00" y="307.2" font-size="15.5" textLength="24.50" lengthAdjust="spacingAndGlyphs">500</text><text x="184.40" y="307.2" font-size="15.5" textLength="32.40" lengthAdjust="spacingAndGlyphs">1000</text><text x="255.10" y="307.2" font-size="15.5" textLength="31.70" lengthAdjust="spacingAndGlyphs">1500</text><text x="324.40" y="307.2" font-size="15.5" textLength="32.30" lengthAdjust="spacingAndGlyphs">2000</text><text x="394.20" y="307.2" font-size="15.5" textLength="32.20" lengthAdjust="spacingAndGlyphs">2500</text><text x="464.00" y="307.2" font-size="15.5" textLength="32.20" lengthAdjust="spacingAndGlyphs">3000</text><text x="35.40" y="56.7" font-size="16" textLength="14.80" lengthAdjust="spacingAndGlyphs">10</text><text x="42.20" y="85.1" font-size="16" textLength="7.60" lengthAdjust="spacingAndGlyphs">5</text><text x="43.00" y="150.9" font-size="16" textLength="5.60" lengthAdjust="spacingAndGlyphs">1</text><text x="22.40" y="179.3" font-size="16" textLength="27.40" lengthAdjust="spacingAndGlyphs">0.50</text><text x="22.40" y="245.1" font-size="16" textLength="27.40" lengthAdjust="spacingAndGlyphs">0.10</text><text x="22.40" y="273.5" font-size="16" textLength="27.40" lengthAdjust="spacingAndGlyphs">0.05</text><text x="241.30" y="329.3" font-size="17" textLength="13.00" lengthAdjust="spacingAndGlyphs" font-style="italic">m</text><text x="254.20" y="330.2" font-size="9.5" textLength="7.00" lengthAdjust="spacingAndGlyphs" font-style="italic">T</text><text x="266.80" y="329.3" font-size="14.3" textLength="34.00" lengthAdjust="spacingAndGlyphs">[GeV]</text><g transform="translate(14.9,171.9) rotate(-90)"><text x="-0.3" y="0" font-size="16.5" font-style="italic" textLength="10.3" lengthAdjust="spacingAndGlyphs">σ</text><text x="9.9" y="0" font-size="16" textLength="23.3" lengthAdjust="spacingAndGlyphs">[ab]</text></g><text x="148.00" y="13.8" font-size="17" textLength="13.20" lengthAdjust="spacingAndGlyphs" font-style="italic">m</text><text x="161.20" y="16.2" font-size="12" textLength="6.00" lengthAdjust="spacingAndGlyphs" font-style="italic">h</text><text x="167.10" y="17.9" font-size="7.5" textLength="3.50" lengthAdjust="spacingAndGlyphs">2</text><path d="M175.80,8.90H183.20M175.80,11.80H183.20" stroke="#000" stroke-width="1.05" fill="none"/><text x="186.20" y="13.8" font-size="15.5" textLength="24.90" lengthAdjust="spacingAndGlyphs">280</text><text x="215.00" y="13.8" font-size="15.5" textLength="31.80" lengthAdjust="spacingAndGlyphs">GeV,</text><text x="251.60" y="13.8" font-size="17" textLength="5.60" lengthAdjust="spacingAndGlyphs" font-style="italic">s</text><text x="257.40" y="16.9" font-size="11" textLength="5.80" lengthAdjust="spacingAndGlyphs" font-style="italic">L</text><path d="M268.70,8.90H276.30M268.70,11.80H276.30" stroke="#000" stroke-width="1.05" fill="none"/><text x="279.60" y="13.8" font-size="15.5" textLength="29.70" lengthAdjust="spacingAndGlyphs">0.15,</text><text x="316.60" y="13.8" font-size="17" textLength="7.20" lengthAdjust="spacingAndGlyphs" font-style="italic">v</text><text x="324.10" y="16.9" font-size="11" textLength="5.30" lengthAdjust="spacingAndGlyphs" font-style="italic">S</text><path d="M333.60,8.90H340.60M333.60,11.80H340.60" stroke="#000" stroke-width="1.05" fill="none"/><text x="343.40" y="13.8" font-size="15.5" textLength="24.40" lengthAdjust="spacingAndGlyphs">500</text><text x="371.20" y="13.8" font-size="15.5" textLength="28.80" lengthAdjust="spacingAndGlyphs">GeV</text><path d="M370.3,193.50L372.2,192.00" fill="none" stroke="#000" stroke-width="0.75"/><path d="M372.4,191.90L375.7,199.60" fill="none" stroke="#000" stroke-width="1.9"/><path d="M375.9,200.30L380.3,183.80H391.3" fill="none" stroke="#000" stroke-width="1.1" stroke-linejoin="miter"/><text x="383.20" y="198.1" font-size="16.5" textLength="5.30" lengthAdjust="spacingAndGlyphs" font-style="italic">s</text><path d="M392.80,193.00H400.00M392.80,195.90H400.00" stroke="#000" stroke-width="1.05" fill="none"/><text x="400.20" y="197.9" font-size="15.5" textLength="25.00" lengthAdjust="spacingAndGlyphs">500</text><text x="429.00" y="197.9" font-size="15.5" textLength="28.70" lengthAdjust="spacingAndGlyphs">GeV</text><path d="M370.3,224.50L372.2,223.00" fill="none" stroke="#000" stroke-width="0.75"/><path d="M372.4,222.90L375.7,230.60" fill="none" stroke="#000" stroke-width="1.9"/><path d="M375.9,231.30L380.3,214.80H391.3" fill="none" stroke="#000" stroke-width="1.1" stroke-linejoin="miter"/><text x="383.20" y="229.1" font-size="16.5" textLength="5.30" lengthAdjust="spacingAndGlyphs" font-style="italic">s</text><path d="M392.80,224.00H400.00M392.80,226.90H400.00" stroke="#000" stroke-width="1.05" fill="none"/><text x="401.50" y="228.9" font-size="15.5" textLength="5.50" lengthAdjust="spacingAndGlyphs">1</text><text x="412.50" y="228.9" font-size="15.5" textLength="26.50" lengthAdjust="spacingAndGlyphs">TeV</text><path d="M370.3,255.60L372.2,254.10" fill="none" stroke="#000" stroke-width="0.75"/><path d="M372.4,254.00L375.7,261.70" fill="none" stroke="#000" stroke-width="1.9"/><path d="M375.9,262.40L380.3,245.90H391.3" fill="none" stroke="#000" stroke-width="1.1" stroke-linejoin="miter"/><text x="383.20" y="260.2" font-size="16.5" textLength="5.30" lengthAdjust="spacingAndGlyphs" font-style="italic">s</text><path d="M392.80,255.10H400.00M392.80,258.00H400.00" stroke="#000" stroke-width="1.05" fill="none"/><text x="400.50" y="260.0" font-size="15.5" textLength="7.30" lengthAdjust="spacingAndGlyphs">3</text><text x="412.50" y="260.0" font-size="15.5" textLength="26.50" lengthAdjust="spacingAndGlyphs">TeV</text></g></svg></body></html>
